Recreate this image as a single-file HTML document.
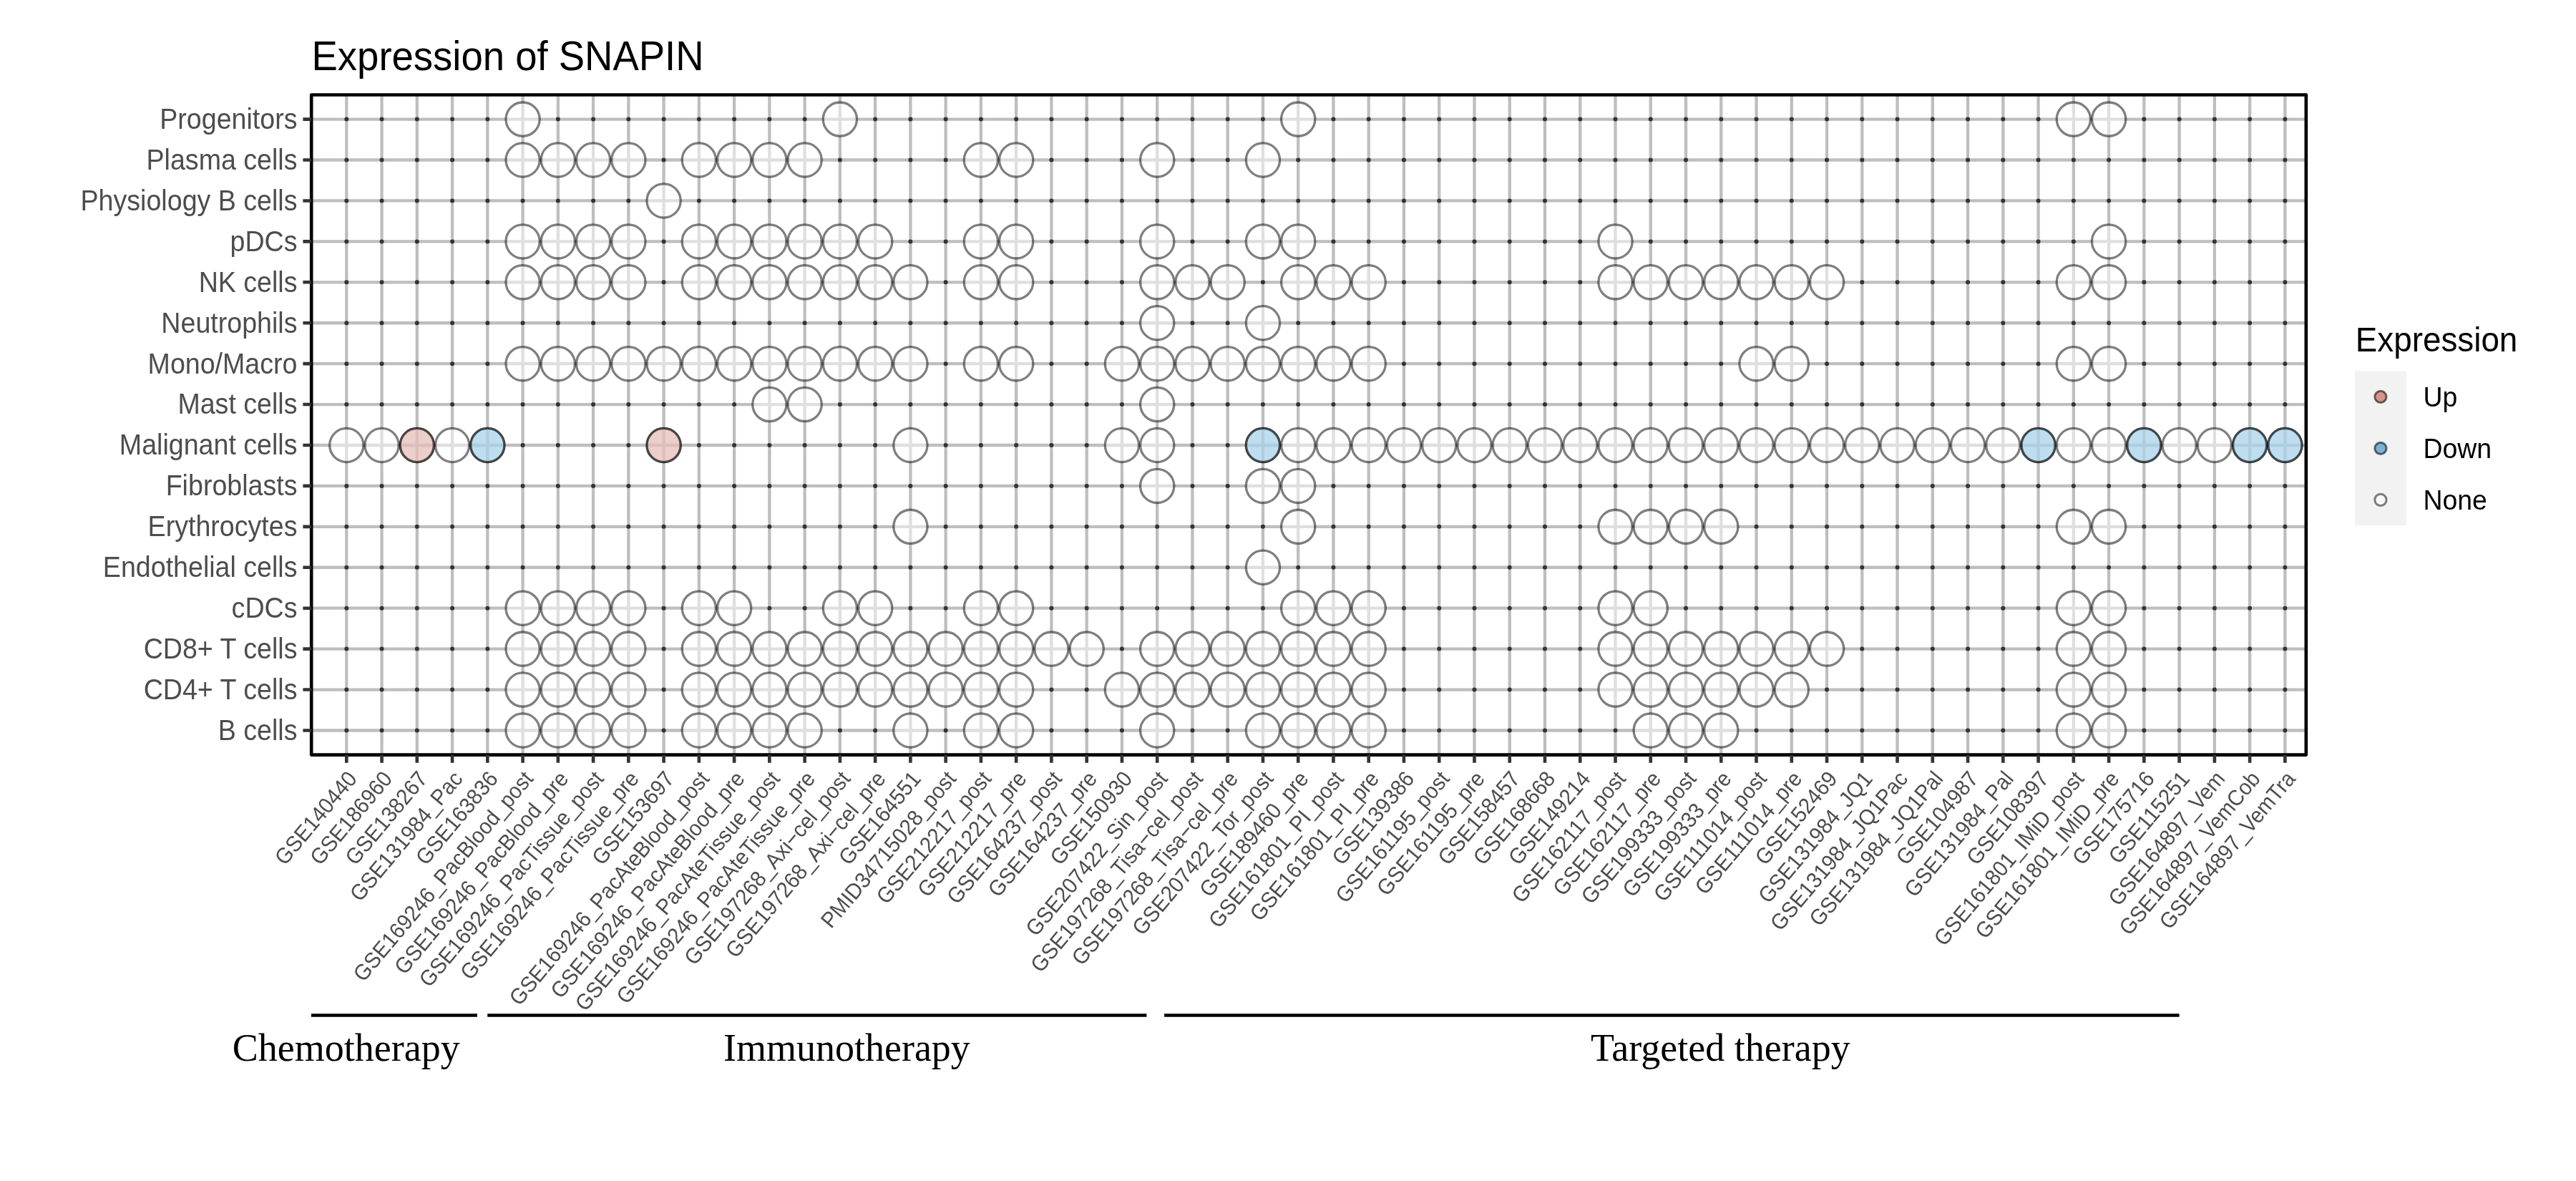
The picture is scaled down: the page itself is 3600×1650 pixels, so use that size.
<!DOCTYPE html><html><head><meta charset="utf-8"><style>html,body{margin:0;padding:0;background:#fff;width:3600px;height:1650px;overflow:hidden;}svg{display:block;will-change:transform;}text{font-family:"Liberation Sans",sans-serif;}.sf{font-family:"Liberation Serif",serif;}</style></head><body>
<svg width="3600" height="1650" viewBox="0 0 3600 1650">
<rect x="0" y="0" width="3600" height="1650" fill="#fff"/>
<path d="M484.30 132.5V1054.6M533.56 132.5V1054.6M582.81 132.5V1054.6M632.07 132.5V1054.6M681.32 132.5V1054.6M730.58 132.5V1054.6M779.84 132.5V1054.6M829.09 132.5V1054.6M878.35 132.5V1054.6M927.60 132.5V1054.6M976.86 132.5V1054.6M1026.12 132.5V1054.6M1075.37 132.5V1054.6M1124.63 132.5V1054.6M1173.88 132.5V1054.6M1223.14 132.5V1054.6M1272.40 132.5V1054.6M1321.65 132.5V1054.6M1370.91 132.5V1054.6M1420.16 132.5V1054.6M1469.42 132.5V1054.6M1518.68 132.5V1054.6M1567.93 132.5V1054.6M1617.19 132.5V1054.6M1666.44 132.5V1054.6M1715.70 132.5V1054.6M1764.96 132.5V1054.6M1814.21 132.5V1054.6M1863.47 132.5V1054.6M1912.72 132.5V1054.6M1961.98 132.5V1054.6M2011.24 132.5V1054.6M2060.49 132.5V1054.6M2109.75 132.5V1054.6M2159.00 132.5V1054.6M2208.26 132.5V1054.6M2257.52 132.5V1054.6M2306.77 132.5V1054.6M2356.03 132.5V1054.6M2405.28 132.5V1054.6M2454.54 132.5V1054.6M2503.80 132.5V1054.6M2553.05 132.5V1054.6M2602.31 132.5V1054.6M2651.56 132.5V1054.6M2700.82 132.5V1054.6M2750.08 132.5V1054.6M2799.33 132.5V1054.6M2848.59 132.5V1054.6M2897.84 132.5V1054.6M2947.10 132.5V1054.6M2996.36 132.5V1054.6M3045.61 132.5V1054.6M3094.87 132.5V1054.6M3144.12 132.5V1054.6M3193.38 132.5V1054.6M435.2 166.60H3222.8M435.2 223.52H3222.8M435.2 280.45H3222.8M435.2 337.38H3222.8M435.2 394.30H3222.8M435.2 451.23H3222.8M435.2 508.15H3222.8M435.2 565.07H3222.8M435.2 622.00H3222.8M435.2 678.92H3222.8M435.2 735.85H3222.8M435.2 792.77H3222.8M435.2 849.70H3222.8M435.2 906.62H3222.8M435.2 963.55H3222.8M435.2 1020.48H3222.8" stroke="#bebebe" stroke-width="4.3" fill="none"/>
<path d="M481.30 166.60a3.0 3.0 0 1 0 6.0 0a3.0 3.0 0 1 0 -6.0 0zM530.56 166.60a3.0 3.0 0 1 0 6.0 0a3.0 3.0 0 1 0 -6.0 0zM579.81 166.60a3.0 3.0 0 1 0 6.0 0a3.0 3.0 0 1 0 -6.0 0zM629.07 166.60a3.0 3.0 0 1 0 6.0 0a3.0 3.0 0 1 0 -6.0 0zM678.32 166.60a3.0 3.0 0 1 0 6.0 0a3.0 3.0 0 1 0 -6.0 0zM776.84 166.60a3.0 3.0 0 1 0 6.0 0a3.0 3.0 0 1 0 -6.0 0zM826.09 166.60a3.0 3.0 0 1 0 6.0 0a3.0 3.0 0 1 0 -6.0 0zM875.35 166.60a3.0 3.0 0 1 0 6.0 0a3.0 3.0 0 1 0 -6.0 0zM924.60 166.60a3.0 3.0 0 1 0 6.0 0a3.0 3.0 0 1 0 -6.0 0zM973.86 166.60a3.0 3.0 0 1 0 6.0 0a3.0 3.0 0 1 0 -6.0 0zM1023.12 166.60a3.0 3.0 0 1 0 6.0 0a3.0 3.0 0 1 0 -6.0 0zM1072.37 166.60a3.0 3.0 0 1 0 6.0 0a3.0 3.0 0 1 0 -6.0 0zM1121.63 166.60a3.0 3.0 0 1 0 6.0 0a3.0 3.0 0 1 0 -6.0 0zM1220.14 166.60a3.0 3.0 0 1 0 6.0 0a3.0 3.0 0 1 0 -6.0 0zM1269.40 166.60a3.0 3.0 0 1 0 6.0 0a3.0 3.0 0 1 0 -6.0 0zM1318.65 166.60a3.0 3.0 0 1 0 6.0 0a3.0 3.0 0 1 0 -6.0 0zM1367.91 166.60a3.0 3.0 0 1 0 6.0 0a3.0 3.0 0 1 0 -6.0 0zM1417.16 166.60a3.0 3.0 0 1 0 6.0 0a3.0 3.0 0 1 0 -6.0 0zM1466.42 166.60a3.0 3.0 0 1 0 6.0 0a3.0 3.0 0 1 0 -6.0 0zM1515.68 166.60a3.0 3.0 0 1 0 6.0 0a3.0 3.0 0 1 0 -6.0 0zM1564.93 166.60a3.0 3.0 0 1 0 6.0 0a3.0 3.0 0 1 0 -6.0 0zM1614.19 166.60a3.0 3.0 0 1 0 6.0 0a3.0 3.0 0 1 0 -6.0 0zM1663.44 166.60a3.0 3.0 0 1 0 6.0 0a3.0 3.0 0 1 0 -6.0 0zM1712.70 166.60a3.0 3.0 0 1 0 6.0 0a3.0 3.0 0 1 0 -6.0 0zM1761.96 166.60a3.0 3.0 0 1 0 6.0 0a3.0 3.0 0 1 0 -6.0 0zM1860.47 166.60a3.0 3.0 0 1 0 6.0 0a3.0 3.0 0 1 0 -6.0 0zM1909.72 166.60a3.0 3.0 0 1 0 6.0 0a3.0 3.0 0 1 0 -6.0 0zM1958.98 166.60a3.0 3.0 0 1 0 6.0 0a3.0 3.0 0 1 0 -6.0 0zM2008.24 166.60a3.0 3.0 0 1 0 6.0 0a3.0 3.0 0 1 0 -6.0 0zM2057.49 166.60a3.0 3.0 0 1 0 6.0 0a3.0 3.0 0 1 0 -6.0 0zM2106.75 166.60a3.0 3.0 0 1 0 6.0 0a3.0 3.0 0 1 0 -6.0 0zM2156.00 166.60a3.0 3.0 0 1 0 6.0 0a3.0 3.0 0 1 0 -6.0 0zM2205.26 166.60a3.0 3.0 0 1 0 6.0 0a3.0 3.0 0 1 0 -6.0 0zM2254.52 166.60a3.0 3.0 0 1 0 6.0 0a3.0 3.0 0 1 0 -6.0 0zM2303.77 166.60a3.0 3.0 0 1 0 6.0 0a3.0 3.0 0 1 0 -6.0 0zM2353.03 166.60a3.0 3.0 0 1 0 6.0 0a3.0 3.0 0 1 0 -6.0 0zM2402.28 166.60a3.0 3.0 0 1 0 6.0 0a3.0 3.0 0 1 0 -6.0 0zM2451.54 166.60a3.0 3.0 0 1 0 6.0 0a3.0 3.0 0 1 0 -6.0 0zM2500.80 166.60a3.0 3.0 0 1 0 6.0 0a3.0 3.0 0 1 0 -6.0 0zM2550.05 166.60a3.0 3.0 0 1 0 6.0 0a3.0 3.0 0 1 0 -6.0 0zM2599.31 166.60a3.0 3.0 0 1 0 6.0 0a3.0 3.0 0 1 0 -6.0 0zM2648.56 166.60a3.0 3.0 0 1 0 6.0 0a3.0 3.0 0 1 0 -6.0 0zM2697.82 166.60a3.0 3.0 0 1 0 6.0 0a3.0 3.0 0 1 0 -6.0 0zM2747.08 166.60a3.0 3.0 0 1 0 6.0 0a3.0 3.0 0 1 0 -6.0 0zM2796.33 166.60a3.0 3.0 0 1 0 6.0 0a3.0 3.0 0 1 0 -6.0 0zM2845.59 166.60a3.0 3.0 0 1 0 6.0 0a3.0 3.0 0 1 0 -6.0 0zM2993.36 166.60a3.0 3.0 0 1 0 6.0 0a3.0 3.0 0 1 0 -6.0 0zM3042.61 166.60a3.0 3.0 0 1 0 6.0 0a3.0 3.0 0 1 0 -6.0 0zM3091.87 166.60a3.0 3.0 0 1 0 6.0 0a3.0 3.0 0 1 0 -6.0 0zM3141.12 166.60a3.0 3.0 0 1 0 6.0 0a3.0 3.0 0 1 0 -6.0 0zM3190.38 166.60a3.0 3.0 0 1 0 6.0 0a3.0 3.0 0 1 0 -6.0 0zM481.30 223.52a3.0 3.0 0 1 0 6.0 0a3.0 3.0 0 1 0 -6.0 0zM530.56 223.52a3.0 3.0 0 1 0 6.0 0a3.0 3.0 0 1 0 -6.0 0zM579.81 223.52a3.0 3.0 0 1 0 6.0 0a3.0 3.0 0 1 0 -6.0 0zM629.07 223.52a3.0 3.0 0 1 0 6.0 0a3.0 3.0 0 1 0 -6.0 0zM678.32 223.52a3.0 3.0 0 1 0 6.0 0a3.0 3.0 0 1 0 -6.0 0zM924.60 223.52a3.0 3.0 0 1 0 6.0 0a3.0 3.0 0 1 0 -6.0 0zM1170.88 223.52a3.0 3.0 0 1 0 6.0 0a3.0 3.0 0 1 0 -6.0 0zM1220.14 223.52a3.0 3.0 0 1 0 6.0 0a3.0 3.0 0 1 0 -6.0 0zM1269.40 223.52a3.0 3.0 0 1 0 6.0 0a3.0 3.0 0 1 0 -6.0 0zM1318.65 223.52a3.0 3.0 0 1 0 6.0 0a3.0 3.0 0 1 0 -6.0 0zM1466.42 223.52a3.0 3.0 0 1 0 6.0 0a3.0 3.0 0 1 0 -6.0 0zM1515.68 223.52a3.0 3.0 0 1 0 6.0 0a3.0 3.0 0 1 0 -6.0 0zM1564.93 223.52a3.0 3.0 0 1 0 6.0 0a3.0 3.0 0 1 0 -6.0 0zM1663.44 223.52a3.0 3.0 0 1 0 6.0 0a3.0 3.0 0 1 0 -6.0 0zM1712.70 223.52a3.0 3.0 0 1 0 6.0 0a3.0 3.0 0 1 0 -6.0 0zM1811.21 223.52a3.0 3.0 0 1 0 6.0 0a3.0 3.0 0 1 0 -6.0 0zM1860.47 223.52a3.0 3.0 0 1 0 6.0 0a3.0 3.0 0 1 0 -6.0 0zM1909.72 223.52a3.0 3.0 0 1 0 6.0 0a3.0 3.0 0 1 0 -6.0 0zM1958.98 223.52a3.0 3.0 0 1 0 6.0 0a3.0 3.0 0 1 0 -6.0 0zM2008.24 223.52a3.0 3.0 0 1 0 6.0 0a3.0 3.0 0 1 0 -6.0 0zM2057.49 223.52a3.0 3.0 0 1 0 6.0 0a3.0 3.0 0 1 0 -6.0 0zM2106.75 223.52a3.0 3.0 0 1 0 6.0 0a3.0 3.0 0 1 0 -6.0 0zM2156.00 223.52a3.0 3.0 0 1 0 6.0 0a3.0 3.0 0 1 0 -6.0 0zM2205.26 223.52a3.0 3.0 0 1 0 6.0 0a3.0 3.0 0 1 0 -6.0 0zM2254.52 223.52a3.0 3.0 0 1 0 6.0 0a3.0 3.0 0 1 0 -6.0 0zM2303.77 223.52a3.0 3.0 0 1 0 6.0 0a3.0 3.0 0 1 0 -6.0 0zM2353.03 223.52a3.0 3.0 0 1 0 6.0 0a3.0 3.0 0 1 0 -6.0 0zM2402.28 223.52a3.0 3.0 0 1 0 6.0 0a3.0 3.0 0 1 0 -6.0 0zM2451.54 223.52a3.0 3.0 0 1 0 6.0 0a3.0 3.0 0 1 0 -6.0 0zM2500.80 223.52a3.0 3.0 0 1 0 6.0 0a3.0 3.0 0 1 0 -6.0 0zM2550.05 223.52a3.0 3.0 0 1 0 6.0 0a3.0 3.0 0 1 0 -6.0 0zM2599.31 223.52a3.0 3.0 0 1 0 6.0 0a3.0 3.0 0 1 0 -6.0 0zM2648.56 223.52a3.0 3.0 0 1 0 6.0 0a3.0 3.0 0 1 0 -6.0 0zM2697.82 223.52a3.0 3.0 0 1 0 6.0 0a3.0 3.0 0 1 0 -6.0 0zM2747.08 223.52a3.0 3.0 0 1 0 6.0 0a3.0 3.0 0 1 0 -6.0 0zM2796.33 223.52a3.0 3.0 0 1 0 6.0 0a3.0 3.0 0 1 0 -6.0 0zM2845.59 223.52a3.0 3.0 0 1 0 6.0 0a3.0 3.0 0 1 0 -6.0 0zM2894.84 223.52a3.0 3.0 0 1 0 6.0 0a3.0 3.0 0 1 0 -6.0 0zM2944.10 223.52a3.0 3.0 0 1 0 6.0 0a3.0 3.0 0 1 0 -6.0 0zM2993.36 223.52a3.0 3.0 0 1 0 6.0 0a3.0 3.0 0 1 0 -6.0 0zM3042.61 223.52a3.0 3.0 0 1 0 6.0 0a3.0 3.0 0 1 0 -6.0 0zM3091.87 223.52a3.0 3.0 0 1 0 6.0 0a3.0 3.0 0 1 0 -6.0 0zM3141.12 223.52a3.0 3.0 0 1 0 6.0 0a3.0 3.0 0 1 0 -6.0 0zM3190.38 223.52a3.0 3.0 0 1 0 6.0 0a3.0 3.0 0 1 0 -6.0 0zM481.30 280.45a3.0 3.0 0 1 0 6.0 0a3.0 3.0 0 1 0 -6.0 0zM530.56 280.45a3.0 3.0 0 1 0 6.0 0a3.0 3.0 0 1 0 -6.0 0zM579.81 280.45a3.0 3.0 0 1 0 6.0 0a3.0 3.0 0 1 0 -6.0 0zM629.07 280.45a3.0 3.0 0 1 0 6.0 0a3.0 3.0 0 1 0 -6.0 0zM678.32 280.45a3.0 3.0 0 1 0 6.0 0a3.0 3.0 0 1 0 -6.0 0zM727.58 280.45a3.0 3.0 0 1 0 6.0 0a3.0 3.0 0 1 0 -6.0 0zM776.84 280.45a3.0 3.0 0 1 0 6.0 0a3.0 3.0 0 1 0 -6.0 0zM826.09 280.45a3.0 3.0 0 1 0 6.0 0a3.0 3.0 0 1 0 -6.0 0zM875.35 280.45a3.0 3.0 0 1 0 6.0 0a3.0 3.0 0 1 0 -6.0 0zM973.86 280.45a3.0 3.0 0 1 0 6.0 0a3.0 3.0 0 1 0 -6.0 0zM1023.12 280.45a3.0 3.0 0 1 0 6.0 0a3.0 3.0 0 1 0 -6.0 0zM1072.37 280.45a3.0 3.0 0 1 0 6.0 0a3.0 3.0 0 1 0 -6.0 0zM1121.63 280.45a3.0 3.0 0 1 0 6.0 0a3.0 3.0 0 1 0 -6.0 0zM1170.88 280.45a3.0 3.0 0 1 0 6.0 0a3.0 3.0 0 1 0 -6.0 0zM1220.14 280.45a3.0 3.0 0 1 0 6.0 0a3.0 3.0 0 1 0 -6.0 0zM1269.40 280.45a3.0 3.0 0 1 0 6.0 0a3.0 3.0 0 1 0 -6.0 0zM1318.65 280.45a3.0 3.0 0 1 0 6.0 0a3.0 3.0 0 1 0 -6.0 0zM1367.91 280.45a3.0 3.0 0 1 0 6.0 0a3.0 3.0 0 1 0 -6.0 0zM1417.16 280.45a3.0 3.0 0 1 0 6.0 0a3.0 3.0 0 1 0 -6.0 0zM1466.42 280.45a3.0 3.0 0 1 0 6.0 0a3.0 3.0 0 1 0 -6.0 0zM1515.68 280.45a3.0 3.0 0 1 0 6.0 0a3.0 3.0 0 1 0 -6.0 0zM1564.93 280.45a3.0 3.0 0 1 0 6.0 0a3.0 3.0 0 1 0 -6.0 0zM1614.19 280.45a3.0 3.0 0 1 0 6.0 0a3.0 3.0 0 1 0 -6.0 0zM1663.44 280.45a3.0 3.0 0 1 0 6.0 0a3.0 3.0 0 1 0 -6.0 0zM1712.70 280.45a3.0 3.0 0 1 0 6.0 0a3.0 3.0 0 1 0 -6.0 0zM1761.96 280.45a3.0 3.0 0 1 0 6.0 0a3.0 3.0 0 1 0 -6.0 0zM1811.21 280.45a3.0 3.0 0 1 0 6.0 0a3.0 3.0 0 1 0 -6.0 0zM1860.47 280.45a3.0 3.0 0 1 0 6.0 0a3.0 3.0 0 1 0 -6.0 0zM1909.72 280.45a3.0 3.0 0 1 0 6.0 0a3.0 3.0 0 1 0 -6.0 0zM1958.98 280.45a3.0 3.0 0 1 0 6.0 0a3.0 3.0 0 1 0 -6.0 0zM2008.24 280.45a3.0 3.0 0 1 0 6.0 0a3.0 3.0 0 1 0 -6.0 0zM2057.49 280.45a3.0 3.0 0 1 0 6.0 0a3.0 3.0 0 1 0 -6.0 0zM2106.75 280.45a3.0 3.0 0 1 0 6.0 0a3.0 3.0 0 1 0 -6.0 0zM2156.00 280.45a3.0 3.0 0 1 0 6.0 0a3.0 3.0 0 1 0 -6.0 0zM2205.26 280.45a3.0 3.0 0 1 0 6.0 0a3.0 3.0 0 1 0 -6.0 0zM2254.52 280.45a3.0 3.0 0 1 0 6.0 0a3.0 3.0 0 1 0 -6.0 0zM2303.77 280.45a3.0 3.0 0 1 0 6.0 0a3.0 3.0 0 1 0 -6.0 0zM2353.03 280.45a3.0 3.0 0 1 0 6.0 0a3.0 3.0 0 1 0 -6.0 0zM2402.28 280.45a3.0 3.0 0 1 0 6.0 0a3.0 3.0 0 1 0 -6.0 0zM2451.54 280.45a3.0 3.0 0 1 0 6.0 0a3.0 3.0 0 1 0 -6.0 0zM2500.80 280.45a3.0 3.0 0 1 0 6.0 0a3.0 3.0 0 1 0 -6.0 0zM2550.05 280.45a3.0 3.0 0 1 0 6.0 0a3.0 3.0 0 1 0 -6.0 0zM2599.31 280.45a3.0 3.0 0 1 0 6.0 0a3.0 3.0 0 1 0 -6.0 0zM2648.56 280.45a3.0 3.0 0 1 0 6.0 0a3.0 3.0 0 1 0 -6.0 0zM2697.82 280.45a3.0 3.0 0 1 0 6.0 0a3.0 3.0 0 1 0 -6.0 0zM2747.08 280.45a3.0 3.0 0 1 0 6.0 0a3.0 3.0 0 1 0 -6.0 0zM2796.33 280.45a3.0 3.0 0 1 0 6.0 0a3.0 3.0 0 1 0 -6.0 0zM2845.59 280.45a3.0 3.0 0 1 0 6.0 0a3.0 3.0 0 1 0 -6.0 0zM2894.84 280.45a3.0 3.0 0 1 0 6.0 0a3.0 3.0 0 1 0 -6.0 0zM2944.10 280.45a3.0 3.0 0 1 0 6.0 0a3.0 3.0 0 1 0 -6.0 0zM2993.36 280.45a3.0 3.0 0 1 0 6.0 0a3.0 3.0 0 1 0 -6.0 0zM3042.61 280.45a3.0 3.0 0 1 0 6.0 0a3.0 3.0 0 1 0 -6.0 0zM3091.87 280.45a3.0 3.0 0 1 0 6.0 0a3.0 3.0 0 1 0 -6.0 0zM3141.12 280.45a3.0 3.0 0 1 0 6.0 0a3.0 3.0 0 1 0 -6.0 0zM3190.38 280.45a3.0 3.0 0 1 0 6.0 0a3.0 3.0 0 1 0 -6.0 0zM481.30 337.38a3.0 3.0 0 1 0 6.0 0a3.0 3.0 0 1 0 -6.0 0zM530.56 337.38a3.0 3.0 0 1 0 6.0 0a3.0 3.0 0 1 0 -6.0 0zM579.81 337.38a3.0 3.0 0 1 0 6.0 0a3.0 3.0 0 1 0 -6.0 0zM629.07 337.38a3.0 3.0 0 1 0 6.0 0a3.0 3.0 0 1 0 -6.0 0zM678.32 337.38a3.0 3.0 0 1 0 6.0 0a3.0 3.0 0 1 0 -6.0 0zM924.60 337.38a3.0 3.0 0 1 0 6.0 0a3.0 3.0 0 1 0 -6.0 0zM1269.40 337.38a3.0 3.0 0 1 0 6.0 0a3.0 3.0 0 1 0 -6.0 0zM1318.65 337.38a3.0 3.0 0 1 0 6.0 0a3.0 3.0 0 1 0 -6.0 0zM1466.42 337.38a3.0 3.0 0 1 0 6.0 0a3.0 3.0 0 1 0 -6.0 0zM1515.68 337.38a3.0 3.0 0 1 0 6.0 0a3.0 3.0 0 1 0 -6.0 0zM1564.93 337.38a3.0 3.0 0 1 0 6.0 0a3.0 3.0 0 1 0 -6.0 0zM1663.44 337.38a3.0 3.0 0 1 0 6.0 0a3.0 3.0 0 1 0 -6.0 0zM1712.70 337.38a3.0 3.0 0 1 0 6.0 0a3.0 3.0 0 1 0 -6.0 0zM1860.47 337.38a3.0 3.0 0 1 0 6.0 0a3.0 3.0 0 1 0 -6.0 0zM1909.72 337.38a3.0 3.0 0 1 0 6.0 0a3.0 3.0 0 1 0 -6.0 0zM1958.98 337.38a3.0 3.0 0 1 0 6.0 0a3.0 3.0 0 1 0 -6.0 0zM2008.24 337.38a3.0 3.0 0 1 0 6.0 0a3.0 3.0 0 1 0 -6.0 0zM2057.49 337.38a3.0 3.0 0 1 0 6.0 0a3.0 3.0 0 1 0 -6.0 0zM2106.75 337.38a3.0 3.0 0 1 0 6.0 0a3.0 3.0 0 1 0 -6.0 0zM2156.00 337.38a3.0 3.0 0 1 0 6.0 0a3.0 3.0 0 1 0 -6.0 0zM2205.26 337.38a3.0 3.0 0 1 0 6.0 0a3.0 3.0 0 1 0 -6.0 0zM2303.77 337.38a3.0 3.0 0 1 0 6.0 0a3.0 3.0 0 1 0 -6.0 0zM2353.03 337.38a3.0 3.0 0 1 0 6.0 0a3.0 3.0 0 1 0 -6.0 0zM2402.28 337.38a3.0 3.0 0 1 0 6.0 0a3.0 3.0 0 1 0 -6.0 0zM2451.54 337.38a3.0 3.0 0 1 0 6.0 0a3.0 3.0 0 1 0 -6.0 0zM2500.80 337.38a3.0 3.0 0 1 0 6.0 0a3.0 3.0 0 1 0 -6.0 0zM2550.05 337.38a3.0 3.0 0 1 0 6.0 0a3.0 3.0 0 1 0 -6.0 0zM2599.31 337.38a3.0 3.0 0 1 0 6.0 0a3.0 3.0 0 1 0 -6.0 0zM2648.56 337.38a3.0 3.0 0 1 0 6.0 0a3.0 3.0 0 1 0 -6.0 0zM2697.82 337.38a3.0 3.0 0 1 0 6.0 0a3.0 3.0 0 1 0 -6.0 0zM2747.08 337.38a3.0 3.0 0 1 0 6.0 0a3.0 3.0 0 1 0 -6.0 0zM2796.33 337.38a3.0 3.0 0 1 0 6.0 0a3.0 3.0 0 1 0 -6.0 0zM2845.59 337.38a3.0 3.0 0 1 0 6.0 0a3.0 3.0 0 1 0 -6.0 0zM2894.84 337.38a3.0 3.0 0 1 0 6.0 0a3.0 3.0 0 1 0 -6.0 0zM2993.36 337.38a3.0 3.0 0 1 0 6.0 0a3.0 3.0 0 1 0 -6.0 0zM3042.61 337.38a3.0 3.0 0 1 0 6.0 0a3.0 3.0 0 1 0 -6.0 0zM3091.87 337.38a3.0 3.0 0 1 0 6.0 0a3.0 3.0 0 1 0 -6.0 0zM3141.12 337.38a3.0 3.0 0 1 0 6.0 0a3.0 3.0 0 1 0 -6.0 0zM3190.38 337.38a3.0 3.0 0 1 0 6.0 0a3.0 3.0 0 1 0 -6.0 0zM481.30 394.30a3.0 3.0 0 1 0 6.0 0a3.0 3.0 0 1 0 -6.0 0zM530.56 394.30a3.0 3.0 0 1 0 6.0 0a3.0 3.0 0 1 0 -6.0 0zM579.81 394.30a3.0 3.0 0 1 0 6.0 0a3.0 3.0 0 1 0 -6.0 0zM629.07 394.30a3.0 3.0 0 1 0 6.0 0a3.0 3.0 0 1 0 -6.0 0zM678.32 394.30a3.0 3.0 0 1 0 6.0 0a3.0 3.0 0 1 0 -6.0 0zM924.60 394.30a3.0 3.0 0 1 0 6.0 0a3.0 3.0 0 1 0 -6.0 0zM1318.65 394.30a3.0 3.0 0 1 0 6.0 0a3.0 3.0 0 1 0 -6.0 0zM1466.42 394.30a3.0 3.0 0 1 0 6.0 0a3.0 3.0 0 1 0 -6.0 0zM1515.68 394.30a3.0 3.0 0 1 0 6.0 0a3.0 3.0 0 1 0 -6.0 0zM1564.93 394.30a3.0 3.0 0 1 0 6.0 0a3.0 3.0 0 1 0 -6.0 0zM1761.96 394.30a3.0 3.0 0 1 0 6.0 0a3.0 3.0 0 1 0 -6.0 0zM1958.98 394.30a3.0 3.0 0 1 0 6.0 0a3.0 3.0 0 1 0 -6.0 0zM2008.24 394.30a3.0 3.0 0 1 0 6.0 0a3.0 3.0 0 1 0 -6.0 0zM2057.49 394.30a3.0 3.0 0 1 0 6.0 0a3.0 3.0 0 1 0 -6.0 0zM2106.75 394.30a3.0 3.0 0 1 0 6.0 0a3.0 3.0 0 1 0 -6.0 0zM2156.00 394.30a3.0 3.0 0 1 0 6.0 0a3.0 3.0 0 1 0 -6.0 0zM2205.26 394.30a3.0 3.0 0 1 0 6.0 0a3.0 3.0 0 1 0 -6.0 0zM2599.31 394.30a3.0 3.0 0 1 0 6.0 0a3.0 3.0 0 1 0 -6.0 0zM2648.56 394.30a3.0 3.0 0 1 0 6.0 0a3.0 3.0 0 1 0 -6.0 0zM2697.82 394.30a3.0 3.0 0 1 0 6.0 0a3.0 3.0 0 1 0 -6.0 0zM2747.08 394.30a3.0 3.0 0 1 0 6.0 0a3.0 3.0 0 1 0 -6.0 0zM2796.33 394.30a3.0 3.0 0 1 0 6.0 0a3.0 3.0 0 1 0 -6.0 0zM2845.59 394.30a3.0 3.0 0 1 0 6.0 0a3.0 3.0 0 1 0 -6.0 0zM2993.36 394.30a3.0 3.0 0 1 0 6.0 0a3.0 3.0 0 1 0 -6.0 0zM3042.61 394.30a3.0 3.0 0 1 0 6.0 0a3.0 3.0 0 1 0 -6.0 0zM3091.87 394.30a3.0 3.0 0 1 0 6.0 0a3.0 3.0 0 1 0 -6.0 0zM3141.12 394.30a3.0 3.0 0 1 0 6.0 0a3.0 3.0 0 1 0 -6.0 0zM3190.38 394.30a3.0 3.0 0 1 0 6.0 0a3.0 3.0 0 1 0 -6.0 0zM481.30 451.23a3.0 3.0 0 1 0 6.0 0a3.0 3.0 0 1 0 -6.0 0zM530.56 451.23a3.0 3.0 0 1 0 6.0 0a3.0 3.0 0 1 0 -6.0 0zM579.81 451.23a3.0 3.0 0 1 0 6.0 0a3.0 3.0 0 1 0 -6.0 0zM629.07 451.23a3.0 3.0 0 1 0 6.0 0a3.0 3.0 0 1 0 -6.0 0zM678.32 451.23a3.0 3.0 0 1 0 6.0 0a3.0 3.0 0 1 0 -6.0 0zM727.58 451.23a3.0 3.0 0 1 0 6.0 0a3.0 3.0 0 1 0 -6.0 0zM776.84 451.23a3.0 3.0 0 1 0 6.0 0a3.0 3.0 0 1 0 -6.0 0zM826.09 451.23a3.0 3.0 0 1 0 6.0 0a3.0 3.0 0 1 0 -6.0 0zM875.35 451.23a3.0 3.0 0 1 0 6.0 0a3.0 3.0 0 1 0 -6.0 0zM924.60 451.23a3.0 3.0 0 1 0 6.0 0a3.0 3.0 0 1 0 -6.0 0zM973.86 451.23a3.0 3.0 0 1 0 6.0 0a3.0 3.0 0 1 0 -6.0 0zM1023.12 451.23a3.0 3.0 0 1 0 6.0 0a3.0 3.0 0 1 0 -6.0 0zM1072.37 451.23a3.0 3.0 0 1 0 6.0 0a3.0 3.0 0 1 0 -6.0 0zM1121.63 451.23a3.0 3.0 0 1 0 6.0 0a3.0 3.0 0 1 0 -6.0 0zM1170.88 451.23a3.0 3.0 0 1 0 6.0 0a3.0 3.0 0 1 0 -6.0 0zM1220.14 451.23a3.0 3.0 0 1 0 6.0 0a3.0 3.0 0 1 0 -6.0 0zM1269.40 451.23a3.0 3.0 0 1 0 6.0 0a3.0 3.0 0 1 0 -6.0 0zM1318.65 451.23a3.0 3.0 0 1 0 6.0 0a3.0 3.0 0 1 0 -6.0 0zM1367.91 451.23a3.0 3.0 0 1 0 6.0 0a3.0 3.0 0 1 0 -6.0 0zM1417.16 451.23a3.0 3.0 0 1 0 6.0 0a3.0 3.0 0 1 0 -6.0 0zM1466.42 451.23a3.0 3.0 0 1 0 6.0 0a3.0 3.0 0 1 0 -6.0 0zM1515.68 451.23a3.0 3.0 0 1 0 6.0 0a3.0 3.0 0 1 0 -6.0 0zM1564.93 451.23a3.0 3.0 0 1 0 6.0 0a3.0 3.0 0 1 0 -6.0 0zM1663.44 451.23a3.0 3.0 0 1 0 6.0 0a3.0 3.0 0 1 0 -6.0 0zM1712.70 451.23a3.0 3.0 0 1 0 6.0 0a3.0 3.0 0 1 0 -6.0 0zM1811.21 451.23a3.0 3.0 0 1 0 6.0 0a3.0 3.0 0 1 0 -6.0 0zM1860.47 451.23a3.0 3.0 0 1 0 6.0 0a3.0 3.0 0 1 0 -6.0 0zM1909.72 451.23a3.0 3.0 0 1 0 6.0 0a3.0 3.0 0 1 0 -6.0 0zM1958.98 451.23a3.0 3.0 0 1 0 6.0 0a3.0 3.0 0 1 0 -6.0 0zM2008.24 451.23a3.0 3.0 0 1 0 6.0 0a3.0 3.0 0 1 0 -6.0 0zM2057.49 451.23a3.0 3.0 0 1 0 6.0 0a3.0 3.0 0 1 0 -6.0 0zM2106.75 451.23a3.0 3.0 0 1 0 6.0 0a3.0 3.0 0 1 0 -6.0 0zM2156.00 451.23a3.0 3.0 0 1 0 6.0 0a3.0 3.0 0 1 0 -6.0 0zM2205.26 451.23a3.0 3.0 0 1 0 6.0 0a3.0 3.0 0 1 0 -6.0 0zM2254.52 451.23a3.0 3.0 0 1 0 6.0 0a3.0 3.0 0 1 0 -6.0 0zM2303.77 451.23a3.0 3.0 0 1 0 6.0 0a3.0 3.0 0 1 0 -6.0 0zM2353.03 451.23a3.0 3.0 0 1 0 6.0 0a3.0 3.0 0 1 0 -6.0 0zM2402.28 451.23a3.0 3.0 0 1 0 6.0 0a3.0 3.0 0 1 0 -6.0 0zM2451.54 451.23a3.0 3.0 0 1 0 6.0 0a3.0 3.0 0 1 0 -6.0 0zM2500.80 451.23a3.0 3.0 0 1 0 6.0 0a3.0 3.0 0 1 0 -6.0 0zM2550.05 451.23a3.0 3.0 0 1 0 6.0 0a3.0 3.0 0 1 0 -6.0 0zM2599.31 451.23a3.0 3.0 0 1 0 6.0 0a3.0 3.0 0 1 0 -6.0 0zM2648.56 451.23a3.0 3.0 0 1 0 6.0 0a3.0 3.0 0 1 0 -6.0 0zM2697.82 451.23a3.0 3.0 0 1 0 6.0 0a3.0 3.0 0 1 0 -6.0 0zM2747.08 451.23a3.0 3.0 0 1 0 6.0 0a3.0 3.0 0 1 0 -6.0 0zM2796.33 451.23a3.0 3.0 0 1 0 6.0 0a3.0 3.0 0 1 0 -6.0 0zM2845.59 451.23a3.0 3.0 0 1 0 6.0 0a3.0 3.0 0 1 0 -6.0 0zM2894.84 451.23a3.0 3.0 0 1 0 6.0 0a3.0 3.0 0 1 0 -6.0 0zM2944.10 451.23a3.0 3.0 0 1 0 6.0 0a3.0 3.0 0 1 0 -6.0 0zM2993.36 451.23a3.0 3.0 0 1 0 6.0 0a3.0 3.0 0 1 0 -6.0 0zM3042.61 451.23a3.0 3.0 0 1 0 6.0 0a3.0 3.0 0 1 0 -6.0 0zM3091.87 451.23a3.0 3.0 0 1 0 6.0 0a3.0 3.0 0 1 0 -6.0 0zM3141.12 451.23a3.0 3.0 0 1 0 6.0 0a3.0 3.0 0 1 0 -6.0 0zM3190.38 451.23a3.0 3.0 0 1 0 6.0 0a3.0 3.0 0 1 0 -6.0 0zM481.30 508.15a3.0 3.0 0 1 0 6.0 0a3.0 3.0 0 1 0 -6.0 0zM530.56 508.15a3.0 3.0 0 1 0 6.0 0a3.0 3.0 0 1 0 -6.0 0zM579.81 508.15a3.0 3.0 0 1 0 6.0 0a3.0 3.0 0 1 0 -6.0 0zM629.07 508.15a3.0 3.0 0 1 0 6.0 0a3.0 3.0 0 1 0 -6.0 0zM678.32 508.15a3.0 3.0 0 1 0 6.0 0a3.0 3.0 0 1 0 -6.0 0zM1318.65 508.15a3.0 3.0 0 1 0 6.0 0a3.0 3.0 0 1 0 -6.0 0zM1466.42 508.15a3.0 3.0 0 1 0 6.0 0a3.0 3.0 0 1 0 -6.0 0zM1515.68 508.15a3.0 3.0 0 1 0 6.0 0a3.0 3.0 0 1 0 -6.0 0zM1958.98 508.15a3.0 3.0 0 1 0 6.0 0a3.0 3.0 0 1 0 -6.0 0zM2008.24 508.15a3.0 3.0 0 1 0 6.0 0a3.0 3.0 0 1 0 -6.0 0zM2057.49 508.15a3.0 3.0 0 1 0 6.0 0a3.0 3.0 0 1 0 -6.0 0zM2106.75 508.15a3.0 3.0 0 1 0 6.0 0a3.0 3.0 0 1 0 -6.0 0zM2156.00 508.15a3.0 3.0 0 1 0 6.0 0a3.0 3.0 0 1 0 -6.0 0zM2205.26 508.15a3.0 3.0 0 1 0 6.0 0a3.0 3.0 0 1 0 -6.0 0zM2254.52 508.15a3.0 3.0 0 1 0 6.0 0a3.0 3.0 0 1 0 -6.0 0zM2303.77 508.15a3.0 3.0 0 1 0 6.0 0a3.0 3.0 0 1 0 -6.0 0zM2353.03 508.15a3.0 3.0 0 1 0 6.0 0a3.0 3.0 0 1 0 -6.0 0zM2402.28 508.15a3.0 3.0 0 1 0 6.0 0a3.0 3.0 0 1 0 -6.0 0zM2550.05 508.15a3.0 3.0 0 1 0 6.0 0a3.0 3.0 0 1 0 -6.0 0zM2599.31 508.15a3.0 3.0 0 1 0 6.0 0a3.0 3.0 0 1 0 -6.0 0zM2648.56 508.15a3.0 3.0 0 1 0 6.0 0a3.0 3.0 0 1 0 -6.0 0zM2697.82 508.15a3.0 3.0 0 1 0 6.0 0a3.0 3.0 0 1 0 -6.0 0zM2747.08 508.15a3.0 3.0 0 1 0 6.0 0a3.0 3.0 0 1 0 -6.0 0zM2796.33 508.15a3.0 3.0 0 1 0 6.0 0a3.0 3.0 0 1 0 -6.0 0zM2845.59 508.15a3.0 3.0 0 1 0 6.0 0a3.0 3.0 0 1 0 -6.0 0zM2993.36 508.15a3.0 3.0 0 1 0 6.0 0a3.0 3.0 0 1 0 -6.0 0zM3042.61 508.15a3.0 3.0 0 1 0 6.0 0a3.0 3.0 0 1 0 -6.0 0zM3091.87 508.15a3.0 3.0 0 1 0 6.0 0a3.0 3.0 0 1 0 -6.0 0zM3141.12 508.15a3.0 3.0 0 1 0 6.0 0a3.0 3.0 0 1 0 -6.0 0zM3190.38 508.15a3.0 3.0 0 1 0 6.0 0a3.0 3.0 0 1 0 -6.0 0zM481.30 565.07a3.0 3.0 0 1 0 6.0 0a3.0 3.0 0 1 0 -6.0 0zM530.56 565.07a3.0 3.0 0 1 0 6.0 0a3.0 3.0 0 1 0 -6.0 0zM579.81 565.07a3.0 3.0 0 1 0 6.0 0a3.0 3.0 0 1 0 -6.0 0zM629.07 565.07a3.0 3.0 0 1 0 6.0 0a3.0 3.0 0 1 0 -6.0 0zM678.32 565.07a3.0 3.0 0 1 0 6.0 0a3.0 3.0 0 1 0 -6.0 0zM727.58 565.07a3.0 3.0 0 1 0 6.0 0a3.0 3.0 0 1 0 -6.0 0zM776.84 565.07a3.0 3.0 0 1 0 6.0 0a3.0 3.0 0 1 0 -6.0 0zM826.09 565.07a3.0 3.0 0 1 0 6.0 0a3.0 3.0 0 1 0 -6.0 0zM875.35 565.07a3.0 3.0 0 1 0 6.0 0a3.0 3.0 0 1 0 -6.0 0zM924.60 565.07a3.0 3.0 0 1 0 6.0 0a3.0 3.0 0 1 0 -6.0 0zM973.86 565.07a3.0 3.0 0 1 0 6.0 0a3.0 3.0 0 1 0 -6.0 0zM1023.12 565.07a3.0 3.0 0 1 0 6.0 0a3.0 3.0 0 1 0 -6.0 0zM1170.88 565.07a3.0 3.0 0 1 0 6.0 0a3.0 3.0 0 1 0 -6.0 0zM1220.14 565.07a3.0 3.0 0 1 0 6.0 0a3.0 3.0 0 1 0 -6.0 0zM1269.40 565.07a3.0 3.0 0 1 0 6.0 0a3.0 3.0 0 1 0 -6.0 0zM1318.65 565.07a3.0 3.0 0 1 0 6.0 0a3.0 3.0 0 1 0 -6.0 0zM1367.91 565.07a3.0 3.0 0 1 0 6.0 0a3.0 3.0 0 1 0 -6.0 0zM1417.16 565.07a3.0 3.0 0 1 0 6.0 0a3.0 3.0 0 1 0 -6.0 0zM1466.42 565.07a3.0 3.0 0 1 0 6.0 0a3.0 3.0 0 1 0 -6.0 0zM1515.68 565.07a3.0 3.0 0 1 0 6.0 0a3.0 3.0 0 1 0 -6.0 0zM1564.93 565.07a3.0 3.0 0 1 0 6.0 0a3.0 3.0 0 1 0 -6.0 0zM1663.44 565.07a3.0 3.0 0 1 0 6.0 0a3.0 3.0 0 1 0 -6.0 0zM1712.70 565.07a3.0 3.0 0 1 0 6.0 0a3.0 3.0 0 1 0 -6.0 0zM1761.96 565.07a3.0 3.0 0 1 0 6.0 0a3.0 3.0 0 1 0 -6.0 0zM1811.21 565.07a3.0 3.0 0 1 0 6.0 0a3.0 3.0 0 1 0 -6.0 0zM1860.47 565.07a3.0 3.0 0 1 0 6.0 0a3.0 3.0 0 1 0 -6.0 0zM1909.72 565.07a3.0 3.0 0 1 0 6.0 0a3.0 3.0 0 1 0 -6.0 0zM1958.98 565.07a3.0 3.0 0 1 0 6.0 0a3.0 3.0 0 1 0 -6.0 0zM2008.24 565.07a3.0 3.0 0 1 0 6.0 0a3.0 3.0 0 1 0 -6.0 0zM2057.49 565.07a3.0 3.0 0 1 0 6.0 0a3.0 3.0 0 1 0 -6.0 0zM2106.75 565.07a3.0 3.0 0 1 0 6.0 0a3.0 3.0 0 1 0 -6.0 0zM2156.00 565.07a3.0 3.0 0 1 0 6.0 0a3.0 3.0 0 1 0 -6.0 0zM2205.26 565.07a3.0 3.0 0 1 0 6.0 0a3.0 3.0 0 1 0 -6.0 0zM2254.52 565.07a3.0 3.0 0 1 0 6.0 0a3.0 3.0 0 1 0 -6.0 0zM2303.77 565.07a3.0 3.0 0 1 0 6.0 0a3.0 3.0 0 1 0 -6.0 0zM2353.03 565.07a3.0 3.0 0 1 0 6.0 0a3.0 3.0 0 1 0 -6.0 0zM2402.28 565.07a3.0 3.0 0 1 0 6.0 0a3.0 3.0 0 1 0 -6.0 0zM2451.54 565.07a3.0 3.0 0 1 0 6.0 0a3.0 3.0 0 1 0 -6.0 0zM2500.80 565.07a3.0 3.0 0 1 0 6.0 0a3.0 3.0 0 1 0 -6.0 0zM2550.05 565.07a3.0 3.0 0 1 0 6.0 0a3.0 3.0 0 1 0 -6.0 0zM2599.31 565.07a3.0 3.0 0 1 0 6.0 0a3.0 3.0 0 1 0 -6.0 0zM2648.56 565.07a3.0 3.0 0 1 0 6.0 0a3.0 3.0 0 1 0 -6.0 0zM2697.82 565.07a3.0 3.0 0 1 0 6.0 0a3.0 3.0 0 1 0 -6.0 0zM2747.08 565.07a3.0 3.0 0 1 0 6.0 0a3.0 3.0 0 1 0 -6.0 0zM2796.33 565.07a3.0 3.0 0 1 0 6.0 0a3.0 3.0 0 1 0 -6.0 0zM2845.59 565.07a3.0 3.0 0 1 0 6.0 0a3.0 3.0 0 1 0 -6.0 0zM2894.84 565.07a3.0 3.0 0 1 0 6.0 0a3.0 3.0 0 1 0 -6.0 0zM2944.10 565.07a3.0 3.0 0 1 0 6.0 0a3.0 3.0 0 1 0 -6.0 0zM2993.36 565.07a3.0 3.0 0 1 0 6.0 0a3.0 3.0 0 1 0 -6.0 0zM3042.61 565.07a3.0 3.0 0 1 0 6.0 0a3.0 3.0 0 1 0 -6.0 0zM3091.87 565.07a3.0 3.0 0 1 0 6.0 0a3.0 3.0 0 1 0 -6.0 0zM3141.12 565.07a3.0 3.0 0 1 0 6.0 0a3.0 3.0 0 1 0 -6.0 0zM3190.38 565.07a3.0 3.0 0 1 0 6.0 0a3.0 3.0 0 1 0 -6.0 0zM727.58 622.00a3.0 3.0 0 1 0 6.0 0a3.0 3.0 0 1 0 -6.0 0zM776.84 622.00a3.0 3.0 0 1 0 6.0 0a3.0 3.0 0 1 0 -6.0 0zM826.09 622.00a3.0 3.0 0 1 0 6.0 0a3.0 3.0 0 1 0 -6.0 0zM875.35 622.00a3.0 3.0 0 1 0 6.0 0a3.0 3.0 0 1 0 -6.0 0zM973.86 622.00a3.0 3.0 0 1 0 6.0 0a3.0 3.0 0 1 0 -6.0 0zM1023.12 622.00a3.0 3.0 0 1 0 6.0 0a3.0 3.0 0 1 0 -6.0 0zM1072.37 622.00a3.0 3.0 0 1 0 6.0 0a3.0 3.0 0 1 0 -6.0 0zM1121.63 622.00a3.0 3.0 0 1 0 6.0 0a3.0 3.0 0 1 0 -6.0 0zM1170.88 622.00a3.0 3.0 0 1 0 6.0 0a3.0 3.0 0 1 0 -6.0 0zM1220.14 622.00a3.0 3.0 0 1 0 6.0 0a3.0 3.0 0 1 0 -6.0 0zM1318.65 622.00a3.0 3.0 0 1 0 6.0 0a3.0 3.0 0 1 0 -6.0 0zM1367.91 622.00a3.0 3.0 0 1 0 6.0 0a3.0 3.0 0 1 0 -6.0 0zM1417.16 622.00a3.0 3.0 0 1 0 6.0 0a3.0 3.0 0 1 0 -6.0 0zM1466.42 622.00a3.0 3.0 0 1 0 6.0 0a3.0 3.0 0 1 0 -6.0 0zM1515.68 622.00a3.0 3.0 0 1 0 6.0 0a3.0 3.0 0 1 0 -6.0 0zM1663.44 622.00a3.0 3.0 0 1 0 6.0 0a3.0 3.0 0 1 0 -6.0 0zM1712.70 622.00a3.0 3.0 0 1 0 6.0 0a3.0 3.0 0 1 0 -6.0 0zM481.30 678.92a3.0 3.0 0 1 0 6.0 0a3.0 3.0 0 1 0 -6.0 0zM530.56 678.92a3.0 3.0 0 1 0 6.0 0a3.0 3.0 0 1 0 -6.0 0zM579.81 678.92a3.0 3.0 0 1 0 6.0 0a3.0 3.0 0 1 0 -6.0 0zM629.07 678.92a3.0 3.0 0 1 0 6.0 0a3.0 3.0 0 1 0 -6.0 0zM678.32 678.92a3.0 3.0 0 1 0 6.0 0a3.0 3.0 0 1 0 -6.0 0zM727.58 678.92a3.0 3.0 0 1 0 6.0 0a3.0 3.0 0 1 0 -6.0 0zM776.84 678.92a3.0 3.0 0 1 0 6.0 0a3.0 3.0 0 1 0 -6.0 0zM826.09 678.92a3.0 3.0 0 1 0 6.0 0a3.0 3.0 0 1 0 -6.0 0zM875.35 678.92a3.0 3.0 0 1 0 6.0 0a3.0 3.0 0 1 0 -6.0 0zM924.60 678.92a3.0 3.0 0 1 0 6.0 0a3.0 3.0 0 1 0 -6.0 0zM973.86 678.92a3.0 3.0 0 1 0 6.0 0a3.0 3.0 0 1 0 -6.0 0zM1023.12 678.92a3.0 3.0 0 1 0 6.0 0a3.0 3.0 0 1 0 -6.0 0zM1072.37 678.92a3.0 3.0 0 1 0 6.0 0a3.0 3.0 0 1 0 -6.0 0zM1121.63 678.92a3.0 3.0 0 1 0 6.0 0a3.0 3.0 0 1 0 -6.0 0zM1170.88 678.92a3.0 3.0 0 1 0 6.0 0a3.0 3.0 0 1 0 -6.0 0zM1220.14 678.92a3.0 3.0 0 1 0 6.0 0a3.0 3.0 0 1 0 -6.0 0zM1269.40 678.92a3.0 3.0 0 1 0 6.0 0a3.0 3.0 0 1 0 -6.0 0zM1318.65 678.92a3.0 3.0 0 1 0 6.0 0a3.0 3.0 0 1 0 -6.0 0zM1367.91 678.92a3.0 3.0 0 1 0 6.0 0a3.0 3.0 0 1 0 -6.0 0zM1417.16 678.92a3.0 3.0 0 1 0 6.0 0a3.0 3.0 0 1 0 -6.0 0zM1466.42 678.92a3.0 3.0 0 1 0 6.0 0a3.0 3.0 0 1 0 -6.0 0zM1515.68 678.92a3.0 3.0 0 1 0 6.0 0a3.0 3.0 0 1 0 -6.0 0zM1564.93 678.92a3.0 3.0 0 1 0 6.0 0a3.0 3.0 0 1 0 -6.0 0zM1663.44 678.92a3.0 3.0 0 1 0 6.0 0a3.0 3.0 0 1 0 -6.0 0zM1712.70 678.92a3.0 3.0 0 1 0 6.0 0a3.0 3.0 0 1 0 -6.0 0zM1860.47 678.92a3.0 3.0 0 1 0 6.0 0a3.0 3.0 0 1 0 -6.0 0zM1909.72 678.92a3.0 3.0 0 1 0 6.0 0a3.0 3.0 0 1 0 -6.0 0zM1958.98 678.92a3.0 3.0 0 1 0 6.0 0a3.0 3.0 0 1 0 -6.0 0zM2008.24 678.92a3.0 3.0 0 1 0 6.0 0a3.0 3.0 0 1 0 -6.0 0zM2057.49 678.92a3.0 3.0 0 1 0 6.0 0a3.0 3.0 0 1 0 -6.0 0zM2106.75 678.92a3.0 3.0 0 1 0 6.0 0a3.0 3.0 0 1 0 -6.0 0zM2156.00 678.92a3.0 3.0 0 1 0 6.0 0a3.0 3.0 0 1 0 -6.0 0zM2205.26 678.92a3.0 3.0 0 1 0 6.0 0a3.0 3.0 0 1 0 -6.0 0zM2254.52 678.92a3.0 3.0 0 1 0 6.0 0a3.0 3.0 0 1 0 -6.0 0zM2303.77 678.92a3.0 3.0 0 1 0 6.0 0a3.0 3.0 0 1 0 -6.0 0zM2353.03 678.92a3.0 3.0 0 1 0 6.0 0a3.0 3.0 0 1 0 -6.0 0zM2402.28 678.92a3.0 3.0 0 1 0 6.0 0a3.0 3.0 0 1 0 -6.0 0zM2451.54 678.92a3.0 3.0 0 1 0 6.0 0a3.0 3.0 0 1 0 -6.0 0zM2500.80 678.92a3.0 3.0 0 1 0 6.0 0a3.0 3.0 0 1 0 -6.0 0zM2550.05 678.92a3.0 3.0 0 1 0 6.0 0a3.0 3.0 0 1 0 -6.0 0zM2599.31 678.92a3.0 3.0 0 1 0 6.0 0a3.0 3.0 0 1 0 -6.0 0zM2648.56 678.92a3.0 3.0 0 1 0 6.0 0a3.0 3.0 0 1 0 -6.0 0zM2697.82 678.92a3.0 3.0 0 1 0 6.0 0a3.0 3.0 0 1 0 -6.0 0zM2747.08 678.92a3.0 3.0 0 1 0 6.0 0a3.0 3.0 0 1 0 -6.0 0zM2796.33 678.92a3.0 3.0 0 1 0 6.0 0a3.0 3.0 0 1 0 -6.0 0zM2845.59 678.92a3.0 3.0 0 1 0 6.0 0a3.0 3.0 0 1 0 -6.0 0zM2894.84 678.92a3.0 3.0 0 1 0 6.0 0a3.0 3.0 0 1 0 -6.0 0zM2944.10 678.92a3.0 3.0 0 1 0 6.0 0a3.0 3.0 0 1 0 -6.0 0zM2993.36 678.92a3.0 3.0 0 1 0 6.0 0a3.0 3.0 0 1 0 -6.0 0zM3042.61 678.92a3.0 3.0 0 1 0 6.0 0a3.0 3.0 0 1 0 -6.0 0zM3091.87 678.92a3.0 3.0 0 1 0 6.0 0a3.0 3.0 0 1 0 -6.0 0zM3141.12 678.92a3.0 3.0 0 1 0 6.0 0a3.0 3.0 0 1 0 -6.0 0zM3190.38 678.92a3.0 3.0 0 1 0 6.0 0a3.0 3.0 0 1 0 -6.0 0zM481.30 735.85a3.0 3.0 0 1 0 6.0 0a3.0 3.0 0 1 0 -6.0 0zM530.56 735.85a3.0 3.0 0 1 0 6.0 0a3.0 3.0 0 1 0 -6.0 0zM579.81 735.85a3.0 3.0 0 1 0 6.0 0a3.0 3.0 0 1 0 -6.0 0zM629.07 735.85a3.0 3.0 0 1 0 6.0 0a3.0 3.0 0 1 0 -6.0 0zM678.32 735.85a3.0 3.0 0 1 0 6.0 0a3.0 3.0 0 1 0 -6.0 0zM727.58 735.85a3.0 3.0 0 1 0 6.0 0a3.0 3.0 0 1 0 -6.0 0zM776.84 735.85a3.0 3.0 0 1 0 6.0 0a3.0 3.0 0 1 0 -6.0 0zM826.09 735.85a3.0 3.0 0 1 0 6.0 0a3.0 3.0 0 1 0 -6.0 0zM875.35 735.85a3.0 3.0 0 1 0 6.0 0a3.0 3.0 0 1 0 -6.0 0zM924.60 735.85a3.0 3.0 0 1 0 6.0 0a3.0 3.0 0 1 0 -6.0 0zM973.86 735.85a3.0 3.0 0 1 0 6.0 0a3.0 3.0 0 1 0 -6.0 0zM1023.12 735.85a3.0 3.0 0 1 0 6.0 0a3.0 3.0 0 1 0 -6.0 0zM1072.37 735.85a3.0 3.0 0 1 0 6.0 0a3.0 3.0 0 1 0 -6.0 0zM1121.63 735.85a3.0 3.0 0 1 0 6.0 0a3.0 3.0 0 1 0 -6.0 0zM1170.88 735.85a3.0 3.0 0 1 0 6.0 0a3.0 3.0 0 1 0 -6.0 0zM1220.14 735.85a3.0 3.0 0 1 0 6.0 0a3.0 3.0 0 1 0 -6.0 0zM1318.65 735.85a3.0 3.0 0 1 0 6.0 0a3.0 3.0 0 1 0 -6.0 0zM1367.91 735.85a3.0 3.0 0 1 0 6.0 0a3.0 3.0 0 1 0 -6.0 0zM1417.16 735.85a3.0 3.0 0 1 0 6.0 0a3.0 3.0 0 1 0 -6.0 0zM1466.42 735.85a3.0 3.0 0 1 0 6.0 0a3.0 3.0 0 1 0 -6.0 0zM1515.68 735.85a3.0 3.0 0 1 0 6.0 0a3.0 3.0 0 1 0 -6.0 0zM1564.93 735.85a3.0 3.0 0 1 0 6.0 0a3.0 3.0 0 1 0 -6.0 0zM1614.19 735.85a3.0 3.0 0 1 0 6.0 0a3.0 3.0 0 1 0 -6.0 0zM1663.44 735.85a3.0 3.0 0 1 0 6.0 0a3.0 3.0 0 1 0 -6.0 0zM1712.70 735.85a3.0 3.0 0 1 0 6.0 0a3.0 3.0 0 1 0 -6.0 0zM1761.96 735.85a3.0 3.0 0 1 0 6.0 0a3.0 3.0 0 1 0 -6.0 0zM1860.47 735.85a3.0 3.0 0 1 0 6.0 0a3.0 3.0 0 1 0 -6.0 0zM1909.72 735.85a3.0 3.0 0 1 0 6.0 0a3.0 3.0 0 1 0 -6.0 0zM1958.98 735.85a3.0 3.0 0 1 0 6.0 0a3.0 3.0 0 1 0 -6.0 0zM2008.24 735.85a3.0 3.0 0 1 0 6.0 0a3.0 3.0 0 1 0 -6.0 0zM2057.49 735.85a3.0 3.0 0 1 0 6.0 0a3.0 3.0 0 1 0 -6.0 0zM2106.75 735.85a3.0 3.0 0 1 0 6.0 0a3.0 3.0 0 1 0 -6.0 0zM2156.00 735.85a3.0 3.0 0 1 0 6.0 0a3.0 3.0 0 1 0 -6.0 0zM2205.26 735.85a3.0 3.0 0 1 0 6.0 0a3.0 3.0 0 1 0 -6.0 0zM2451.54 735.85a3.0 3.0 0 1 0 6.0 0a3.0 3.0 0 1 0 -6.0 0zM2500.80 735.85a3.0 3.0 0 1 0 6.0 0a3.0 3.0 0 1 0 -6.0 0zM2550.05 735.85a3.0 3.0 0 1 0 6.0 0a3.0 3.0 0 1 0 -6.0 0zM2599.31 735.85a3.0 3.0 0 1 0 6.0 0a3.0 3.0 0 1 0 -6.0 0zM2648.56 735.85a3.0 3.0 0 1 0 6.0 0a3.0 3.0 0 1 0 -6.0 0zM2697.82 735.85a3.0 3.0 0 1 0 6.0 0a3.0 3.0 0 1 0 -6.0 0zM2747.08 735.85a3.0 3.0 0 1 0 6.0 0a3.0 3.0 0 1 0 -6.0 0zM2796.33 735.85a3.0 3.0 0 1 0 6.0 0a3.0 3.0 0 1 0 -6.0 0zM2845.59 735.85a3.0 3.0 0 1 0 6.0 0a3.0 3.0 0 1 0 -6.0 0zM2993.36 735.85a3.0 3.0 0 1 0 6.0 0a3.0 3.0 0 1 0 -6.0 0zM3042.61 735.85a3.0 3.0 0 1 0 6.0 0a3.0 3.0 0 1 0 -6.0 0zM3091.87 735.85a3.0 3.0 0 1 0 6.0 0a3.0 3.0 0 1 0 -6.0 0zM3141.12 735.85a3.0 3.0 0 1 0 6.0 0a3.0 3.0 0 1 0 -6.0 0zM3190.38 735.85a3.0 3.0 0 1 0 6.0 0a3.0 3.0 0 1 0 -6.0 0zM481.30 792.77a3.0 3.0 0 1 0 6.0 0a3.0 3.0 0 1 0 -6.0 0zM530.56 792.77a3.0 3.0 0 1 0 6.0 0a3.0 3.0 0 1 0 -6.0 0zM579.81 792.77a3.0 3.0 0 1 0 6.0 0a3.0 3.0 0 1 0 -6.0 0zM629.07 792.77a3.0 3.0 0 1 0 6.0 0a3.0 3.0 0 1 0 -6.0 0zM678.32 792.77a3.0 3.0 0 1 0 6.0 0a3.0 3.0 0 1 0 -6.0 0zM727.58 792.77a3.0 3.0 0 1 0 6.0 0a3.0 3.0 0 1 0 -6.0 0zM776.84 792.77a3.0 3.0 0 1 0 6.0 0a3.0 3.0 0 1 0 -6.0 0zM826.09 792.77a3.0 3.0 0 1 0 6.0 0a3.0 3.0 0 1 0 -6.0 0zM875.35 792.77a3.0 3.0 0 1 0 6.0 0a3.0 3.0 0 1 0 -6.0 0zM924.60 792.77a3.0 3.0 0 1 0 6.0 0a3.0 3.0 0 1 0 -6.0 0zM973.86 792.77a3.0 3.0 0 1 0 6.0 0a3.0 3.0 0 1 0 -6.0 0zM1023.12 792.77a3.0 3.0 0 1 0 6.0 0a3.0 3.0 0 1 0 -6.0 0zM1072.37 792.77a3.0 3.0 0 1 0 6.0 0a3.0 3.0 0 1 0 -6.0 0zM1121.63 792.77a3.0 3.0 0 1 0 6.0 0a3.0 3.0 0 1 0 -6.0 0zM1170.88 792.77a3.0 3.0 0 1 0 6.0 0a3.0 3.0 0 1 0 -6.0 0zM1220.14 792.77a3.0 3.0 0 1 0 6.0 0a3.0 3.0 0 1 0 -6.0 0zM1269.40 792.77a3.0 3.0 0 1 0 6.0 0a3.0 3.0 0 1 0 -6.0 0zM1318.65 792.77a3.0 3.0 0 1 0 6.0 0a3.0 3.0 0 1 0 -6.0 0zM1367.91 792.77a3.0 3.0 0 1 0 6.0 0a3.0 3.0 0 1 0 -6.0 0zM1417.16 792.77a3.0 3.0 0 1 0 6.0 0a3.0 3.0 0 1 0 -6.0 0zM1466.42 792.77a3.0 3.0 0 1 0 6.0 0a3.0 3.0 0 1 0 -6.0 0zM1515.68 792.77a3.0 3.0 0 1 0 6.0 0a3.0 3.0 0 1 0 -6.0 0zM1564.93 792.77a3.0 3.0 0 1 0 6.0 0a3.0 3.0 0 1 0 -6.0 0zM1614.19 792.77a3.0 3.0 0 1 0 6.0 0a3.0 3.0 0 1 0 -6.0 0zM1663.44 792.77a3.0 3.0 0 1 0 6.0 0a3.0 3.0 0 1 0 -6.0 0zM1712.70 792.77a3.0 3.0 0 1 0 6.0 0a3.0 3.0 0 1 0 -6.0 0zM1811.21 792.77a3.0 3.0 0 1 0 6.0 0a3.0 3.0 0 1 0 -6.0 0zM1860.47 792.77a3.0 3.0 0 1 0 6.0 0a3.0 3.0 0 1 0 -6.0 0zM1909.72 792.77a3.0 3.0 0 1 0 6.0 0a3.0 3.0 0 1 0 -6.0 0zM1958.98 792.77a3.0 3.0 0 1 0 6.0 0a3.0 3.0 0 1 0 -6.0 0zM2008.24 792.77a3.0 3.0 0 1 0 6.0 0a3.0 3.0 0 1 0 -6.0 0zM2057.49 792.77a3.0 3.0 0 1 0 6.0 0a3.0 3.0 0 1 0 -6.0 0zM2106.75 792.77a3.0 3.0 0 1 0 6.0 0a3.0 3.0 0 1 0 -6.0 0zM2156.00 792.77a3.0 3.0 0 1 0 6.0 0a3.0 3.0 0 1 0 -6.0 0zM2205.26 792.77a3.0 3.0 0 1 0 6.0 0a3.0 3.0 0 1 0 -6.0 0zM2254.52 792.77a3.0 3.0 0 1 0 6.0 0a3.0 3.0 0 1 0 -6.0 0zM2303.77 792.77a3.0 3.0 0 1 0 6.0 0a3.0 3.0 0 1 0 -6.0 0zM2353.03 792.77a3.0 3.0 0 1 0 6.0 0a3.0 3.0 0 1 0 -6.0 0zM2402.28 792.77a3.0 3.0 0 1 0 6.0 0a3.0 3.0 0 1 0 -6.0 0zM2451.54 792.77a3.0 3.0 0 1 0 6.0 0a3.0 3.0 0 1 0 -6.0 0zM2500.80 792.77a3.0 3.0 0 1 0 6.0 0a3.0 3.0 0 1 0 -6.0 0zM2550.05 792.77a3.0 3.0 0 1 0 6.0 0a3.0 3.0 0 1 0 -6.0 0zM2599.31 792.77a3.0 3.0 0 1 0 6.0 0a3.0 3.0 0 1 0 -6.0 0zM2648.56 792.77a3.0 3.0 0 1 0 6.0 0a3.0 3.0 0 1 0 -6.0 0zM2697.82 792.77a3.0 3.0 0 1 0 6.0 0a3.0 3.0 0 1 0 -6.0 0zM2747.08 792.77a3.0 3.0 0 1 0 6.0 0a3.0 3.0 0 1 0 -6.0 0zM2796.33 792.77a3.0 3.0 0 1 0 6.0 0a3.0 3.0 0 1 0 -6.0 0zM2845.59 792.77a3.0 3.0 0 1 0 6.0 0a3.0 3.0 0 1 0 -6.0 0zM2894.84 792.77a3.0 3.0 0 1 0 6.0 0a3.0 3.0 0 1 0 -6.0 0zM2944.10 792.77a3.0 3.0 0 1 0 6.0 0a3.0 3.0 0 1 0 -6.0 0zM2993.36 792.77a3.0 3.0 0 1 0 6.0 0a3.0 3.0 0 1 0 -6.0 0zM3042.61 792.77a3.0 3.0 0 1 0 6.0 0a3.0 3.0 0 1 0 -6.0 0zM3091.87 792.77a3.0 3.0 0 1 0 6.0 0a3.0 3.0 0 1 0 -6.0 0zM3141.12 792.77a3.0 3.0 0 1 0 6.0 0a3.0 3.0 0 1 0 -6.0 0zM3190.38 792.77a3.0 3.0 0 1 0 6.0 0a3.0 3.0 0 1 0 -6.0 0zM481.30 849.70a3.0 3.0 0 1 0 6.0 0a3.0 3.0 0 1 0 -6.0 0zM530.56 849.70a3.0 3.0 0 1 0 6.0 0a3.0 3.0 0 1 0 -6.0 0zM579.81 849.70a3.0 3.0 0 1 0 6.0 0a3.0 3.0 0 1 0 -6.0 0zM629.07 849.70a3.0 3.0 0 1 0 6.0 0a3.0 3.0 0 1 0 -6.0 0zM678.32 849.70a3.0 3.0 0 1 0 6.0 0a3.0 3.0 0 1 0 -6.0 0zM924.60 849.70a3.0 3.0 0 1 0 6.0 0a3.0 3.0 0 1 0 -6.0 0zM1072.37 849.70a3.0 3.0 0 1 0 6.0 0a3.0 3.0 0 1 0 -6.0 0zM1121.63 849.70a3.0 3.0 0 1 0 6.0 0a3.0 3.0 0 1 0 -6.0 0zM1269.40 849.70a3.0 3.0 0 1 0 6.0 0a3.0 3.0 0 1 0 -6.0 0zM1318.65 849.70a3.0 3.0 0 1 0 6.0 0a3.0 3.0 0 1 0 -6.0 0zM1466.42 849.70a3.0 3.0 0 1 0 6.0 0a3.0 3.0 0 1 0 -6.0 0zM1515.68 849.70a3.0 3.0 0 1 0 6.0 0a3.0 3.0 0 1 0 -6.0 0zM1564.93 849.70a3.0 3.0 0 1 0 6.0 0a3.0 3.0 0 1 0 -6.0 0zM1614.19 849.70a3.0 3.0 0 1 0 6.0 0a3.0 3.0 0 1 0 -6.0 0zM1663.44 849.70a3.0 3.0 0 1 0 6.0 0a3.0 3.0 0 1 0 -6.0 0zM1712.70 849.70a3.0 3.0 0 1 0 6.0 0a3.0 3.0 0 1 0 -6.0 0zM1761.96 849.70a3.0 3.0 0 1 0 6.0 0a3.0 3.0 0 1 0 -6.0 0zM1958.98 849.70a3.0 3.0 0 1 0 6.0 0a3.0 3.0 0 1 0 -6.0 0zM2008.24 849.70a3.0 3.0 0 1 0 6.0 0a3.0 3.0 0 1 0 -6.0 0zM2057.49 849.70a3.0 3.0 0 1 0 6.0 0a3.0 3.0 0 1 0 -6.0 0zM2106.75 849.70a3.0 3.0 0 1 0 6.0 0a3.0 3.0 0 1 0 -6.0 0zM2156.00 849.70a3.0 3.0 0 1 0 6.0 0a3.0 3.0 0 1 0 -6.0 0zM2205.26 849.70a3.0 3.0 0 1 0 6.0 0a3.0 3.0 0 1 0 -6.0 0zM2353.03 849.70a3.0 3.0 0 1 0 6.0 0a3.0 3.0 0 1 0 -6.0 0zM2402.28 849.70a3.0 3.0 0 1 0 6.0 0a3.0 3.0 0 1 0 -6.0 0zM2451.54 849.70a3.0 3.0 0 1 0 6.0 0a3.0 3.0 0 1 0 -6.0 0zM2500.80 849.70a3.0 3.0 0 1 0 6.0 0a3.0 3.0 0 1 0 -6.0 0zM2550.05 849.70a3.0 3.0 0 1 0 6.0 0a3.0 3.0 0 1 0 -6.0 0zM2599.31 849.70a3.0 3.0 0 1 0 6.0 0a3.0 3.0 0 1 0 -6.0 0zM2648.56 849.70a3.0 3.0 0 1 0 6.0 0a3.0 3.0 0 1 0 -6.0 0zM2697.82 849.70a3.0 3.0 0 1 0 6.0 0a3.0 3.0 0 1 0 -6.0 0zM2747.08 849.70a3.0 3.0 0 1 0 6.0 0a3.0 3.0 0 1 0 -6.0 0zM2796.33 849.70a3.0 3.0 0 1 0 6.0 0a3.0 3.0 0 1 0 -6.0 0zM2845.59 849.70a3.0 3.0 0 1 0 6.0 0a3.0 3.0 0 1 0 -6.0 0zM2993.36 849.70a3.0 3.0 0 1 0 6.0 0a3.0 3.0 0 1 0 -6.0 0zM3042.61 849.70a3.0 3.0 0 1 0 6.0 0a3.0 3.0 0 1 0 -6.0 0zM3091.87 849.70a3.0 3.0 0 1 0 6.0 0a3.0 3.0 0 1 0 -6.0 0zM3141.12 849.70a3.0 3.0 0 1 0 6.0 0a3.0 3.0 0 1 0 -6.0 0zM3190.38 849.70a3.0 3.0 0 1 0 6.0 0a3.0 3.0 0 1 0 -6.0 0zM481.30 906.62a3.0 3.0 0 1 0 6.0 0a3.0 3.0 0 1 0 -6.0 0zM530.56 906.62a3.0 3.0 0 1 0 6.0 0a3.0 3.0 0 1 0 -6.0 0zM579.81 906.62a3.0 3.0 0 1 0 6.0 0a3.0 3.0 0 1 0 -6.0 0zM629.07 906.62a3.0 3.0 0 1 0 6.0 0a3.0 3.0 0 1 0 -6.0 0zM678.32 906.62a3.0 3.0 0 1 0 6.0 0a3.0 3.0 0 1 0 -6.0 0zM924.60 906.62a3.0 3.0 0 1 0 6.0 0a3.0 3.0 0 1 0 -6.0 0zM1564.93 906.62a3.0 3.0 0 1 0 6.0 0a3.0 3.0 0 1 0 -6.0 0zM1958.98 906.62a3.0 3.0 0 1 0 6.0 0a3.0 3.0 0 1 0 -6.0 0zM2008.24 906.62a3.0 3.0 0 1 0 6.0 0a3.0 3.0 0 1 0 -6.0 0zM2057.49 906.62a3.0 3.0 0 1 0 6.0 0a3.0 3.0 0 1 0 -6.0 0zM2106.75 906.62a3.0 3.0 0 1 0 6.0 0a3.0 3.0 0 1 0 -6.0 0zM2156.00 906.62a3.0 3.0 0 1 0 6.0 0a3.0 3.0 0 1 0 -6.0 0zM2205.26 906.62a3.0 3.0 0 1 0 6.0 0a3.0 3.0 0 1 0 -6.0 0zM2599.31 906.62a3.0 3.0 0 1 0 6.0 0a3.0 3.0 0 1 0 -6.0 0zM2648.56 906.62a3.0 3.0 0 1 0 6.0 0a3.0 3.0 0 1 0 -6.0 0zM2697.82 906.62a3.0 3.0 0 1 0 6.0 0a3.0 3.0 0 1 0 -6.0 0zM2747.08 906.62a3.0 3.0 0 1 0 6.0 0a3.0 3.0 0 1 0 -6.0 0zM2796.33 906.62a3.0 3.0 0 1 0 6.0 0a3.0 3.0 0 1 0 -6.0 0zM2845.59 906.62a3.0 3.0 0 1 0 6.0 0a3.0 3.0 0 1 0 -6.0 0zM2993.36 906.62a3.0 3.0 0 1 0 6.0 0a3.0 3.0 0 1 0 -6.0 0zM3042.61 906.62a3.0 3.0 0 1 0 6.0 0a3.0 3.0 0 1 0 -6.0 0zM3091.87 906.62a3.0 3.0 0 1 0 6.0 0a3.0 3.0 0 1 0 -6.0 0zM3141.12 906.62a3.0 3.0 0 1 0 6.0 0a3.0 3.0 0 1 0 -6.0 0zM3190.38 906.62a3.0 3.0 0 1 0 6.0 0a3.0 3.0 0 1 0 -6.0 0zM481.30 963.55a3.0 3.0 0 1 0 6.0 0a3.0 3.0 0 1 0 -6.0 0zM530.56 963.55a3.0 3.0 0 1 0 6.0 0a3.0 3.0 0 1 0 -6.0 0zM579.81 963.55a3.0 3.0 0 1 0 6.0 0a3.0 3.0 0 1 0 -6.0 0zM629.07 963.55a3.0 3.0 0 1 0 6.0 0a3.0 3.0 0 1 0 -6.0 0zM678.32 963.55a3.0 3.0 0 1 0 6.0 0a3.0 3.0 0 1 0 -6.0 0zM924.60 963.55a3.0 3.0 0 1 0 6.0 0a3.0 3.0 0 1 0 -6.0 0zM1466.42 963.55a3.0 3.0 0 1 0 6.0 0a3.0 3.0 0 1 0 -6.0 0zM1515.68 963.55a3.0 3.0 0 1 0 6.0 0a3.0 3.0 0 1 0 -6.0 0zM1958.98 963.55a3.0 3.0 0 1 0 6.0 0a3.0 3.0 0 1 0 -6.0 0zM2008.24 963.55a3.0 3.0 0 1 0 6.0 0a3.0 3.0 0 1 0 -6.0 0zM2057.49 963.55a3.0 3.0 0 1 0 6.0 0a3.0 3.0 0 1 0 -6.0 0zM2106.75 963.55a3.0 3.0 0 1 0 6.0 0a3.0 3.0 0 1 0 -6.0 0zM2156.00 963.55a3.0 3.0 0 1 0 6.0 0a3.0 3.0 0 1 0 -6.0 0zM2205.26 963.55a3.0 3.0 0 1 0 6.0 0a3.0 3.0 0 1 0 -6.0 0zM2550.05 963.55a3.0 3.0 0 1 0 6.0 0a3.0 3.0 0 1 0 -6.0 0zM2599.31 963.55a3.0 3.0 0 1 0 6.0 0a3.0 3.0 0 1 0 -6.0 0zM2648.56 963.55a3.0 3.0 0 1 0 6.0 0a3.0 3.0 0 1 0 -6.0 0zM2697.82 963.55a3.0 3.0 0 1 0 6.0 0a3.0 3.0 0 1 0 -6.0 0zM2747.08 963.55a3.0 3.0 0 1 0 6.0 0a3.0 3.0 0 1 0 -6.0 0zM2796.33 963.55a3.0 3.0 0 1 0 6.0 0a3.0 3.0 0 1 0 -6.0 0zM2845.59 963.55a3.0 3.0 0 1 0 6.0 0a3.0 3.0 0 1 0 -6.0 0zM2993.36 963.55a3.0 3.0 0 1 0 6.0 0a3.0 3.0 0 1 0 -6.0 0zM3042.61 963.55a3.0 3.0 0 1 0 6.0 0a3.0 3.0 0 1 0 -6.0 0zM3091.87 963.55a3.0 3.0 0 1 0 6.0 0a3.0 3.0 0 1 0 -6.0 0zM3141.12 963.55a3.0 3.0 0 1 0 6.0 0a3.0 3.0 0 1 0 -6.0 0zM3190.38 963.55a3.0 3.0 0 1 0 6.0 0a3.0 3.0 0 1 0 -6.0 0zM481.30 1020.48a3.0 3.0 0 1 0 6.0 0a3.0 3.0 0 1 0 -6.0 0zM530.56 1020.48a3.0 3.0 0 1 0 6.0 0a3.0 3.0 0 1 0 -6.0 0zM579.81 1020.48a3.0 3.0 0 1 0 6.0 0a3.0 3.0 0 1 0 -6.0 0zM629.07 1020.48a3.0 3.0 0 1 0 6.0 0a3.0 3.0 0 1 0 -6.0 0zM678.32 1020.48a3.0 3.0 0 1 0 6.0 0a3.0 3.0 0 1 0 -6.0 0zM924.60 1020.48a3.0 3.0 0 1 0 6.0 0a3.0 3.0 0 1 0 -6.0 0zM1170.88 1020.48a3.0 3.0 0 1 0 6.0 0a3.0 3.0 0 1 0 -6.0 0zM1220.14 1020.48a3.0 3.0 0 1 0 6.0 0a3.0 3.0 0 1 0 -6.0 0zM1318.65 1020.48a3.0 3.0 0 1 0 6.0 0a3.0 3.0 0 1 0 -6.0 0zM1466.42 1020.48a3.0 3.0 0 1 0 6.0 0a3.0 3.0 0 1 0 -6.0 0zM1515.68 1020.48a3.0 3.0 0 1 0 6.0 0a3.0 3.0 0 1 0 -6.0 0zM1564.93 1020.48a3.0 3.0 0 1 0 6.0 0a3.0 3.0 0 1 0 -6.0 0zM1663.44 1020.48a3.0 3.0 0 1 0 6.0 0a3.0 3.0 0 1 0 -6.0 0zM1712.70 1020.48a3.0 3.0 0 1 0 6.0 0a3.0 3.0 0 1 0 -6.0 0zM1958.98 1020.48a3.0 3.0 0 1 0 6.0 0a3.0 3.0 0 1 0 -6.0 0zM2008.24 1020.48a3.0 3.0 0 1 0 6.0 0a3.0 3.0 0 1 0 -6.0 0zM2057.49 1020.48a3.0 3.0 0 1 0 6.0 0a3.0 3.0 0 1 0 -6.0 0zM2106.75 1020.48a3.0 3.0 0 1 0 6.0 0a3.0 3.0 0 1 0 -6.0 0zM2156.00 1020.48a3.0 3.0 0 1 0 6.0 0a3.0 3.0 0 1 0 -6.0 0zM2205.26 1020.48a3.0 3.0 0 1 0 6.0 0a3.0 3.0 0 1 0 -6.0 0zM2254.52 1020.48a3.0 3.0 0 1 0 6.0 0a3.0 3.0 0 1 0 -6.0 0zM2451.54 1020.48a3.0 3.0 0 1 0 6.0 0a3.0 3.0 0 1 0 -6.0 0zM2500.80 1020.48a3.0 3.0 0 1 0 6.0 0a3.0 3.0 0 1 0 -6.0 0zM2550.05 1020.48a3.0 3.0 0 1 0 6.0 0a3.0 3.0 0 1 0 -6.0 0zM2599.31 1020.48a3.0 3.0 0 1 0 6.0 0a3.0 3.0 0 1 0 -6.0 0zM2648.56 1020.48a3.0 3.0 0 1 0 6.0 0a3.0 3.0 0 1 0 -6.0 0zM2697.82 1020.48a3.0 3.0 0 1 0 6.0 0a3.0 3.0 0 1 0 -6.0 0zM2747.08 1020.48a3.0 3.0 0 1 0 6.0 0a3.0 3.0 0 1 0 -6.0 0zM2796.33 1020.48a3.0 3.0 0 1 0 6.0 0a3.0 3.0 0 1 0 -6.0 0zM2845.59 1020.48a3.0 3.0 0 1 0 6.0 0a3.0 3.0 0 1 0 -6.0 0zM2993.36 1020.48a3.0 3.0 0 1 0 6.0 0a3.0 3.0 0 1 0 -6.0 0zM3042.61 1020.48a3.0 3.0 0 1 0 6.0 0a3.0 3.0 0 1 0 -6.0 0zM3091.87 1020.48a3.0 3.0 0 1 0 6.0 0a3.0 3.0 0 1 0 -6.0 0zM3141.12 1020.48a3.0 3.0 0 1 0 6.0 0a3.0 3.0 0 1 0 -6.0 0zM3190.38 1020.48a3.0 3.0 0 1 0 6.0 0a3.0 3.0 0 1 0 -6.0 0z" fill="#333333"/>
<circle cx="730.58" cy="166.60" r="23.6" fill="rgba(255,255,255,0.5)" stroke="rgba(0,0,0,0.5)" stroke-width="3.3"/>
<circle cx="1173.88" cy="166.60" r="23.6" fill="rgba(255,255,255,0.5)" stroke="rgba(0,0,0,0.5)" stroke-width="3.3"/>
<circle cx="1814.21" cy="166.60" r="23.6" fill="rgba(255,255,255,0.5)" stroke="rgba(0,0,0,0.5)" stroke-width="3.3"/>
<circle cx="2897.84" cy="166.60" r="23.6" fill="rgba(255,255,255,0.5)" stroke="rgba(0,0,0,0.5)" stroke-width="3.3"/>
<circle cx="2947.10" cy="166.60" r="23.6" fill="rgba(255,255,255,0.5)" stroke="rgba(0,0,0,0.5)" stroke-width="3.3"/>
<circle cx="730.58" cy="223.52" r="23.6" fill="rgba(255,255,255,0.5)" stroke="rgba(0,0,0,0.5)" stroke-width="3.3"/>
<circle cx="779.84" cy="223.52" r="23.6" fill="rgba(255,255,255,0.5)" stroke="rgba(0,0,0,0.5)" stroke-width="3.3"/>
<circle cx="829.09" cy="223.52" r="23.6" fill="rgba(255,255,255,0.5)" stroke="rgba(0,0,0,0.5)" stroke-width="3.3"/>
<circle cx="878.35" cy="223.52" r="23.6" fill="rgba(255,255,255,0.5)" stroke="rgba(0,0,0,0.5)" stroke-width="3.3"/>
<circle cx="976.86" cy="223.52" r="23.6" fill="rgba(255,255,255,0.5)" stroke="rgba(0,0,0,0.5)" stroke-width="3.3"/>
<circle cx="1026.12" cy="223.52" r="23.6" fill="rgba(255,255,255,0.5)" stroke="rgba(0,0,0,0.5)" stroke-width="3.3"/>
<circle cx="1075.37" cy="223.52" r="23.6" fill="rgba(255,255,255,0.5)" stroke="rgba(0,0,0,0.5)" stroke-width="3.3"/>
<circle cx="1124.63" cy="223.52" r="23.6" fill="rgba(255,255,255,0.5)" stroke="rgba(0,0,0,0.5)" stroke-width="3.3"/>
<circle cx="1370.91" cy="223.52" r="23.6" fill="rgba(255,255,255,0.5)" stroke="rgba(0,0,0,0.5)" stroke-width="3.3"/>
<circle cx="1420.16" cy="223.52" r="23.6" fill="rgba(255,255,255,0.5)" stroke="rgba(0,0,0,0.5)" stroke-width="3.3"/>
<circle cx="1617.19" cy="223.52" r="23.6" fill="rgba(255,255,255,0.5)" stroke="rgba(0,0,0,0.5)" stroke-width="3.3"/>
<circle cx="1764.96" cy="223.52" r="23.6" fill="rgba(255,255,255,0.5)" stroke="rgba(0,0,0,0.5)" stroke-width="3.3"/>
<circle cx="927.60" cy="280.45" r="23.6" fill="rgba(255,255,255,0.5)" stroke="rgba(0,0,0,0.5)" stroke-width="3.3"/>
<circle cx="730.58" cy="337.38" r="23.6" fill="rgba(255,255,255,0.5)" stroke="rgba(0,0,0,0.5)" stroke-width="3.3"/>
<circle cx="779.84" cy="337.38" r="23.6" fill="rgba(255,255,255,0.5)" stroke="rgba(0,0,0,0.5)" stroke-width="3.3"/>
<circle cx="829.09" cy="337.38" r="23.6" fill="rgba(255,255,255,0.5)" stroke="rgba(0,0,0,0.5)" stroke-width="3.3"/>
<circle cx="878.35" cy="337.38" r="23.6" fill="rgba(255,255,255,0.5)" stroke="rgba(0,0,0,0.5)" stroke-width="3.3"/>
<circle cx="976.86" cy="337.38" r="23.6" fill="rgba(255,255,255,0.5)" stroke="rgba(0,0,0,0.5)" stroke-width="3.3"/>
<circle cx="1026.12" cy="337.38" r="23.6" fill="rgba(255,255,255,0.5)" stroke="rgba(0,0,0,0.5)" stroke-width="3.3"/>
<circle cx="1075.37" cy="337.38" r="23.6" fill="rgba(255,255,255,0.5)" stroke="rgba(0,0,0,0.5)" stroke-width="3.3"/>
<circle cx="1124.63" cy="337.38" r="23.6" fill="rgba(255,255,255,0.5)" stroke="rgba(0,0,0,0.5)" stroke-width="3.3"/>
<circle cx="1173.88" cy="337.38" r="23.6" fill="rgba(255,255,255,0.5)" stroke="rgba(0,0,0,0.5)" stroke-width="3.3"/>
<circle cx="1223.14" cy="337.38" r="23.6" fill="rgba(255,255,255,0.5)" stroke="rgba(0,0,0,0.5)" stroke-width="3.3"/>
<circle cx="1370.91" cy="337.38" r="23.6" fill="rgba(255,255,255,0.5)" stroke="rgba(0,0,0,0.5)" stroke-width="3.3"/>
<circle cx="1420.16" cy="337.38" r="23.6" fill="rgba(255,255,255,0.5)" stroke="rgba(0,0,0,0.5)" stroke-width="3.3"/>
<circle cx="1617.19" cy="337.38" r="23.6" fill="rgba(255,255,255,0.5)" stroke="rgba(0,0,0,0.5)" stroke-width="3.3"/>
<circle cx="1764.96" cy="337.38" r="23.6" fill="rgba(255,255,255,0.5)" stroke="rgba(0,0,0,0.5)" stroke-width="3.3"/>
<circle cx="1814.21" cy="337.38" r="23.6" fill="rgba(255,255,255,0.5)" stroke="rgba(0,0,0,0.5)" stroke-width="3.3"/>
<circle cx="2257.52" cy="337.38" r="23.6" fill="rgba(255,255,255,0.5)" stroke="rgba(0,0,0,0.5)" stroke-width="3.3"/>
<circle cx="2947.10" cy="337.38" r="23.6" fill="rgba(255,255,255,0.5)" stroke="rgba(0,0,0,0.5)" stroke-width="3.3"/>
<circle cx="730.58" cy="394.30" r="23.6" fill="rgba(255,255,255,0.5)" stroke="rgba(0,0,0,0.5)" stroke-width="3.3"/>
<circle cx="779.84" cy="394.30" r="23.6" fill="rgba(255,255,255,0.5)" stroke="rgba(0,0,0,0.5)" stroke-width="3.3"/>
<circle cx="829.09" cy="394.30" r="23.6" fill="rgba(255,255,255,0.5)" stroke="rgba(0,0,0,0.5)" stroke-width="3.3"/>
<circle cx="878.35" cy="394.30" r="23.6" fill="rgba(255,255,255,0.5)" stroke="rgba(0,0,0,0.5)" stroke-width="3.3"/>
<circle cx="976.86" cy="394.30" r="23.6" fill="rgba(255,255,255,0.5)" stroke="rgba(0,0,0,0.5)" stroke-width="3.3"/>
<circle cx="1026.12" cy="394.30" r="23.6" fill="rgba(255,255,255,0.5)" stroke="rgba(0,0,0,0.5)" stroke-width="3.3"/>
<circle cx="1075.37" cy="394.30" r="23.6" fill="rgba(255,255,255,0.5)" stroke="rgba(0,0,0,0.5)" stroke-width="3.3"/>
<circle cx="1124.63" cy="394.30" r="23.6" fill="rgba(255,255,255,0.5)" stroke="rgba(0,0,0,0.5)" stroke-width="3.3"/>
<circle cx="1173.88" cy="394.30" r="23.6" fill="rgba(255,255,255,0.5)" stroke="rgba(0,0,0,0.5)" stroke-width="3.3"/>
<circle cx="1223.14" cy="394.30" r="23.6" fill="rgba(255,255,255,0.5)" stroke="rgba(0,0,0,0.5)" stroke-width="3.3"/>
<circle cx="1272.40" cy="394.30" r="23.6" fill="rgba(255,255,255,0.5)" stroke="rgba(0,0,0,0.5)" stroke-width="3.3"/>
<circle cx="1370.91" cy="394.30" r="23.6" fill="rgba(255,255,255,0.5)" stroke="rgba(0,0,0,0.5)" stroke-width="3.3"/>
<circle cx="1420.16" cy="394.30" r="23.6" fill="rgba(255,255,255,0.5)" stroke="rgba(0,0,0,0.5)" stroke-width="3.3"/>
<circle cx="1617.19" cy="394.30" r="23.6" fill="rgba(255,255,255,0.5)" stroke="rgba(0,0,0,0.5)" stroke-width="3.3"/>
<circle cx="1666.44" cy="394.30" r="23.6" fill="rgba(255,255,255,0.5)" stroke="rgba(0,0,0,0.5)" stroke-width="3.3"/>
<circle cx="1715.70" cy="394.30" r="23.6" fill="rgba(255,255,255,0.5)" stroke="rgba(0,0,0,0.5)" stroke-width="3.3"/>
<circle cx="1814.21" cy="394.30" r="23.6" fill="rgba(255,255,255,0.5)" stroke="rgba(0,0,0,0.5)" stroke-width="3.3"/>
<circle cx="1863.47" cy="394.30" r="23.6" fill="rgba(255,255,255,0.5)" stroke="rgba(0,0,0,0.5)" stroke-width="3.3"/>
<circle cx="1912.72" cy="394.30" r="23.6" fill="rgba(255,255,255,0.5)" stroke="rgba(0,0,0,0.5)" stroke-width="3.3"/>
<circle cx="2257.52" cy="394.30" r="23.6" fill="rgba(255,255,255,0.5)" stroke="rgba(0,0,0,0.5)" stroke-width="3.3"/>
<circle cx="2306.77" cy="394.30" r="23.6" fill="rgba(255,255,255,0.5)" stroke="rgba(0,0,0,0.5)" stroke-width="3.3"/>
<circle cx="2356.03" cy="394.30" r="23.6" fill="rgba(255,255,255,0.5)" stroke="rgba(0,0,0,0.5)" stroke-width="3.3"/>
<circle cx="2405.28" cy="394.30" r="23.6" fill="rgba(255,255,255,0.5)" stroke="rgba(0,0,0,0.5)" stroke-width="3.3"/>
<circle cx="2454.54" cy="394.30" r="23.6" fill="rgba(255,255,255,0.5)" stroke="rgba(0,0,0,0.5)" stroke-width="3.3"/>
<circle cx="2503.80" cy="394.30" r="23.6" fill="rgba(255,255,255,0.5)" stroke="rgba(0,0,0,0.5)" stroke-width="3.3"/>
<circle cx="2553.05" cy="394.30" r="23.6" fill="rgba(255,255,255,0.5)" stroke="rgba(0,0,0,0.5)" stroke-width="3.3"/>
<circle cx="2897.84" cy="394.30" r="23.6" fill="rgba(255,255,255,0.5)" stroke="rgba(0,0,0,0.5)" stroke-width="3.3"/>
<circle cx="2947.10" cy="394.30" r="23.6" fill="rgba(255,255,255,0.5)" stroke="rgba(0,0,0,0.5)" stroke-width="3.3"/>
<circle cx="1617.19" cy="451.23" r="23.6" fill="rgba(255,255,255,0.5)" stroke="rgba(0,0,0,0.5)" stroke-width="3.3"/>
<circle cx="1764.96" cy="451.23" r="23.6" fill="rgba(255,255,255,0.5)" stroke="rgba(0,0,0,0.5)" stroke-width="3.3"/>
<circle cx="730.58" cy="508.15" r="23.6" fill="rgba(255,255,255,0.5)" stroke="rgba(0,0,0,0.5)" stroke-width="3.3"/>
<circle cx="779.84" cy="508.15" r="23.6" fill="rgba(255,255,255,0.5)" stroke="rgba(0,0,0,0.5)" stroke-width="3.3"/>
<circle cx="829.09" cy="508.15" r="23.6" fill="rgba(255,255,255,0.5)" stroke="rgba(0,0,0,0.5)" stroke-width="3.3"/>
<circle cx="878.35" cy="508.15" r="23.6" fill="rgba(255,255,255,0.5)" stroke="rgba(0,0,0,0.5)" stroke-width="3.3"/>
<circle cx="927.60" cy="508.15" r="23.6" fill="rgba(255,255,255,0.5)" stroke="rgba(0,0,0,0.5)" stroke-width="3.3"/>
<circle cx="976.86" cy="508.15" r="23.6" fill="rgba(255,255,255,0.5)" stroke="rgba(0,0,0,0.5)" stroke-width="3.3"/>
<circle cx="1026.12" cy="508.15" r="23.6" fill="rgba(255,255,255,0.5)" stroke="rgba(0,0,0,0.5)" stroke-width="3.3"/>
<circle cx="1075.37" cy="508.15" r="23.6" fill="rgba(255,255,255,0.5)" stroke="rgba(0,0,0,0.5)" stroke-width="3.3"/>
<circle cx="1124.63" cy="508.15" r="23.6" fill="rgba(255,255,255,0.5)" stroke="rgba(0,0,0,0.5)" stroke-width="3.3"/>
<circle cx="1173.88" cy="508.15" r="23.6" fill="rgba(255,255,255,0.5)" stroke="rgba(0,0,0,0.5)" stroke-width="3.3"/>
<circle cx="1223.14" cy="508.15" r="23.6" fill="rgba(255,255,255,0.5)" stroke="rgba(0,0,0,0.5)" stroke-width="3.3"/>
<circle cx="1272.40" cy="508.15" r="23.6" fill="rgba(255,255,255,0.5)" stroke="rgba(0,0,0,0.5)" stroke-width="3.3"/>
<circle cx="1370.91" cy="508.15" r="23.6" fill="rgba(255,255,255,0.5)" stroke="rgba(0,0,0,0.5)" stroke-width="3.3"/>
<circle cx="1420.16" cy="508.15" r="23.6" fill="rgba(255,255,255,0.5)" stroke="rgba(0,0,0,0.5)" stroke-width="3.3"/>
<circle cx="1567.93" cy="508.15" r="23.6" fill="rgba(255,255,255,0.5)" stroke="rgba(0,0,0,0.5)" stroke-width="3.3"/>
<circle cx="1617.19" cy="508.15" r="23.6" fill="rgba(255,255,255,0.5)" stroke="rgba(0,0,0,0.5)" stroke-width="3.3"/>
<circle cx="1666.44" cy="508.15" r="23.6" fill="rgba(255,255,255,0.5)" stroke="rgba(0,0,0,0.5)" stroke-width="3.3"/>
<circle cx="1715.70" cy="508.15" r="23.6" fill="rgba(255,255,255,0.5)" stroke="rgba(0,0,0,0.5)" stroke-width="3.3"/>
<circle cx="1764.96" cy="508.15" r="23.6" fill="rgba(255,255,255,0.5)" stroke="rgba(0,0,0,0.5)" stroke-width="3.3"/>
<circle cx="1814.21" cy="508.15" r="23.6" fill="rgba(255,255,255,0.5)" stroke="rgba(0,0,0,0.5)" stroke-width="3.3"/>
<circle cx="1863.47" cy="508.15" r="23.6" fill="rgba(255,255,255,0.5)" stroke="rgba(0,0,0,0.5)" stroke-width="3.3"/>
<circle cx="1912.72" cy="508.15" r="23.6" fill="rgba(255,255,255,0.5)" stroke="rgba(0,0,0,0.5)" stroke-width="3.3"/>
<circle cx="2454.54" cy="508.15" r="23.6" fill="rgba(255,255,255,0.5)" stroke="rgba(0,0,0,0.5)" stroke-width="3.3"/>
<circle cx="2503.80" cy="508.15" r="23.6" fill="rgba(255,255,255,0.5)" stroke="rgba(0,0,0,0.5)" stroke-width="3.3"/>
<circle cx="2897.84" cy="508.15" r="23.6" fill="rgba(255,255,255,0.5)" stroke="rgba(0,0,0,0.5)" stroke-width="3.3"/>
<circle cx="2947.10" cy="508.15" r="23.6" fill="rgba(255,255,255,0.5)" stroke="rgba(0,0,0,0.5)" stroke-width="3.3"/>
<circle cx="1075.37" cy="565.07" r="23.6" fill="rgba(255,255,255,0.5)" stroke="rgba(0,0,0,0.5)" stroke-width="3.3"/>
<circle cx="1124.63" cy="565.07" r="23.6" fill="rgba(255,255,255,0.5)" stroke="rgba(0,0,0,0.5)" stroke-width="3.3"/>
<circle cx="1617.19" cy="565.07" r="23.6" fill="rgba(255,255,255,0.5)" stroke="rgba(0,0,0,0.5)" stroke-width="3.3"/>
<circle cx="484.30" cy="622.00" r="23.6" fill="rgba(255,255,255,0.5)" stroke="rgba(0,0,0,0.5)" stroke-width="3.3"/>
<circle cx="533.56" cy="622.00" r="23.6" fill="rgba(255,255,255,0.5)" stroke="rgba(0,0,0,0.5)" stroke-width="3.3"/>
<circle cx="582.81" cy="622.00" r="23.6" fill="rgba(255,255,255,0.5)" stroke="rgba(0,0,0,0.5)" stroke-width="3.3"/>
<circle cx="582.81" cy="622.00" r="23.6" fill="rgba(217,157,151,0.5)" stroke="rgba(0,0,0,0.5)" stroke-width="3.3"/>
<circle cx="632.07" cy="622.00" r="23.6" fill="rgba(255,255,255,0.5)" stroke="rgba(0,0,0,0.5)" stroke-width="3.3"/>
<circle cx="681.32" cy="622.00" r="23.6" fill="rgba(255,255,255,0.5)" stroke="rgba(0,0,0,0.5)" stroke-width="3.3"/>
<circle cx="681.32" cy="622.00" r="23.6" fill="rgba(125,189,225,0.5)" stroke="rgba(0,0,0,0.5)" stroke-width="3.3"/>
<circle cx="927.60" cy="622.00" r="23.6" fill="rgba(255,255,255,0.5)" stroke="rgba(0,0,0,0.5)" stroke-width="3.3"/>
<circle cx="927.60" cy="622.00" r="23.6" fill="rgba(217,157,151,0.5)" stroke="rgba(0,0,0,0.5)" stroke-width="3.3"/>
<circle cx="1272.40" cy="622.00" r="23.6" fill="rgba(255,255,255,0.5)" stroke="rgba(0,0,0,0.5)" stroke-width="3.3"/>
<circle cx="1567.93" cy="622.00" r="23.6" fill="rgba(255,255,255,0.5)" stroke="rgba(0,0,0,0.5)" stroke-width="3.3"/>
<circle cx="1617.19" cy="622.00" r="23.6" fill="rgba(255,255,255,0.5)" stroke="rgba(0,0,0,0.5)" stroke-width="3.3"/>
<circle cx="1764.96" cy="622.00" r="23.6" fill="rgba(255,255,255,0.5)" stroke="rgba(0,0,0,0.5)" stroke-width="3.3"/>
<circle cx="1764.96" cy="622.00" r="23.6" fill="rgba(125,189,225,0.5)" stroke="rgba(0,0,0,0.5)" stroke-width="3.3"/>
<circle cx="1814.21" cy="622.00" r="23.6" fill="rgba(255,255,255,0.5)" stroke="rgba(0,0,0,0.5)" stroke-width="3.3"/>
<circle cx="1863.47" cy="622.00" r="23.6" fill="rgba(255,255,255,0.5)" stroke="rgba(0,0,0,0.5)" stroke-width="3.3"/>
<circle cx="1912.72" cy="622.00" r="23.6" fill="rgba(255,255,255,0.5)" stroke="rgba(0,0,0,0.5)" stroke-width="3.3"/>
<circle cx="1961.98" cy="622.00" r="23.6" fill="rgba(255,255,255,0.5)" stroke="rgba(0,0,0,0.5)" stroke-width="3.3"/>
<circle cx="2011.24" cy="622.00" r="23.6" fill="rgba(255,255,255,0.5)" stroke="rgba(0,0,0,0.5)" stroke-width="3.3"/>
<circle cx="2060.49" cy="622.00" r="23.6" fill="rgba(255,255,255,0.5)" stroke="rgba(0,0,0,0.5)" stroke-width="3.3"/>
<circle cx="2109.75" cy="622.00" r="23.6" fill="rgba(255,255,255,0.5)" stroke="rgba(0,0,0,0.5)" stroke-width="3.3"/>
<circle cx="2159.00" cy="622.00" r="23.6" fill="rgba(255,255,255,0.5)" stroke="rgba(0,0,0,0.5)" stroke-width="3.3"/>
<circle cx="2208.26" cy="622.00" r="23.6" fill="rgba(255,255,255,0.5)" stroke="rgba(0,0,0,0.5)" stroke-width="3.3"/>
<circle cx="2257.52" cy="622.00" r="23.6" fill="rgba(255,255,255,0.5)" stroke="rgba(0,0,0,0.5)" stroke-width="3.3"/>
<circle cx="2306.77" cy="622.00" r="23.6" fill="rgba(255,255,255,0.5)" stroke="rgba(0,0,0,0.5)" stroke-width="3.3"/>
<circle cx="2356.03" cy="622.00" r="23.6" fill="rgba(255,255,255,0.5)" stroke="rgba(0,0,0,0.5)" stroke-width="3.3"/>
<circle cx="2405.28" cy="622.00" r="23.6" fill="rgba(255,255,255,0.5)" stroke="rgba(0,0,0,0.5)" stroke-width="3.3"/>
<circle cx="2454.54" cy="622.00" r="23.6" fill="rgba(255,255,255,0.5)" stroke="rgba(0,0,0,0.5)" stroke-width="3.3"/>
<circle cx="2503.80" cy="622.00" r="23.6" fill="rgba(255,255,255,0.5)" stroke="rgba(0,0,0,0.5)" stroke-width="3.3"/>
<circle cx="2553.05" cy="622.00" r="23.6" fill="rgba(255,255,255,0.5)" stroke="rgba(0,0,0,0.5)" stroke-width="3.3"/>
<circle cx="2602.31" cy="622.00" r="23.6" fill="rgba(255,255,255,0.5)" stroke="rgba(0,0,0,0.5)" stroke-width="3.3"/>
<circle cx="2651.56" cy="622.00" r="23.6" fill="rgba(255,255,255,0.5)" stroke="rgba(0,0,0,0.5)" stroke-width="3.3"/>
<circle cx="2700.82" cy="622.00" r="23.6" fill="rgba(255,255,255,0.5)" stroke="rgba(0,0,0,0.5)" stroke-width="3.3"/>
<circle cx="2750.08" cy="622.00" r="23.6" fill="rgba(255,255,255,0.5)" stroke="rgba(0,0,0,0.5)" stroke-width="3.3"/>
<circle cx="2799.33" cy="622.00" r="23.6" fill="rgba(255,255,255,0.5)" stroke="rgba(0,0,0,0.5)" stroke-width="3.3"/>
<circle cx="2848.59" cy="622.00" r="23.6" fill="rgba(255,255,255,0.5)" stroke="rgba(0,0,0,0.5)" stroke-width="3.3"/>
<circle cx="2848.59" cy="622.00" r="23.6" fill="rgba(125,189,225,0.5)" stroke="rgba(0,0,0,0.5)" stroke-width="3.3"/>
<circle cx="2897.84" cy="622.00" r="23.6" fill="rgba(255,255,255,0.5)" stroke="rgba(0,0,0,0.5)" stroke-width="3.3"/>
<circle cx="2947.10" cy="622.00" r="23.6" fill="rgba(255,255,255,0.5)" stroke="rgba(0,0,0,0.5)" stroke-width="3.3"/>
<circle cx="2996.36" cy="622.00" r="23.6" fill="rgba(255,255,255,0.5)" stroke="rgba(0,0,0,0.5)" stroke-width="3.3"/>
<circle cx="2996.36" cy="622.00" r="23.6" fill="rgba(125,189,225,0.5)" stroke="rgba(0,0,0,0.5)" stroke-width="3.3"/>
<circle cx="3045.61" cy="622.00" r="23.6" fill="rgba(255,255,255,0.5)" stroke="rgba(0,0,0,0.5)" stroke-width="3.3"/>
<circle cx="3094.87" cy="622.00" r="23.6" fill="rgba(255,255,255,0.5)" stroke="rgba(0,0,0,0.5)" stroke-width="3.3"/>
<circle cx="3144.12" cy="622.00" r="23.6" fill="rgba(255,255,255,0.5)" stroke="rgba(0,0,0,0.5)" stroke-width="3.3"/>
<circle cx="3144.12" cy="622.00" r="23.6" fill="rgba(125,189,225,0.5)" stroke="rgba(0,0,0,0.5)" stroke-width="3.3"/>
<circle cx="3193.38" cy="622.00" r="23.6" fill="rgba(255,255,255,0.5)" stroke="rgba(0,0,0,0.5)" stroke-width="3.3"/>
<circle cx="3193.38" cy="622.00" r="23.6" fill="rgba(125,189,225,0.5)" stroke="rgba(0,0,0,0.5)" stroke-width="3.3"/>
<circle cx="1617.19" cy="678.92" r="23.6" fill="rgba(255,255,255,0.5)" stroke="rgba(0,0,0,0.5)" stroke-width="3.3"/>
<circle cx="1764.96" cy="678.92" r="23.6" fill="rgba(255,255,255,0.5)" stroke="rgba(0,0,0,0.5)" stroke-width="3.3"/>
<circle cx="1814.21" cy="678.92" r="23.6" fill="rgba(255,255,255,0.5)" stroke="rgba(0,0,0,0.5)" stroke-width="3.3"/>
<circle cx="1272.40" cy="735.85" r="23.6" fill="rgba(255,255,255,0.5)" stroke="rgba(0,0,0,0.5)" stroke-width="3.3"/>
<circle cx="1814.21" cy="735.85" r="23.6" fill="rgba(255,255,255,0.5)" stroke="rgba(0,0,0,0.5)" stroke-width="3.3"/>
<circle cx="2257.52" cy="735.85" r="23.6" fill="rgba(255,255,255,0.5)" stroke="rgba(0,0,0,0.5)" stroke-width="3.3"/>
<circle cx="2306.77" cy="735.85" r="23.6" fill="rgba(255,255,255,0.5)" stroke="rgba(0,0,0,0.5)" stroke-width="3.3"/>
<circle cx="2356.03" cy="735.85" r="23.6" fill="rgba(255,255,255,0.5)" stroke="rgba(0,0,0,0.5)" stroke-width="3.3"/>
<circle cx="2405.28" cy="735.85" r="23.6" fill="rgba(255,255,255,0.5)" stroke="rgba(0,0,0,0.5)" stroke-width="3.3"/>
<circle cx="2897.84" cy="735.85" r="23.6" fill="rgba(255,255,255,0.5)" stroke="rgba(0,0,0,0.5)" stroke-width="3.3"/>
<circle cx="2947.10" cy="735.85" r="23.6" fill="rgba(255,255,255,0.5)" stroke="rgba(0,0,0,0.5)" stroke-width="3.3"/>
<circle cx="1764.96" cy="792.77" r="23.6" fill="rgba(255,255,255,0.5)" stroke="rgba(0,0,0,0.5)" stroke-width="3.3"/>
<circle cx="730.58" cy="849.70" r="23.6" fill="rgba(255,255,255,0.5)" stroke="rgba(0,0,0,0.5)" stroke-width="3.3"/>
<circle cx="779.84" cy="849.70" r="23.6" fill="rgba(255,255,255,0.5)" stroke="rgba(0,0,0,0.5)" stroke-width="3.3"/>
<circle cx="829.09" cy="849.70" r="23.6" fill="rgba(255,255,255,0.5)" stroke="rgba(0,0,0,0.5)" stroke-width="3.3"/>
<circle cx="878.35" cy="849.70" r="23.6" fill="rgba(255,255,255,0.5)" stroke="rgba(0,0,0,0.5)" stroke-width="3.3"/>
<circle cx="976.86" cy="849.70" r="23.6" fill="rgba(255,255,255,0.5)" stroke="rgba(0,0,0,0.5)" stroke-width="3.3"/>
<circle cx="1026.12" cy="849.70" r="23.6" fill="rgba(255,255,255,0.5)" stroke="rgba(0,0,0,0.5)" stroke-width="3.3"/>
<circle cx="1173.88" cy="849.70" r="23.6" fill="rgba(255,255,255,0.5)" stroke="rgba(0,0,0,0.5)" stroke-width="3.3"/>
<circle cx="1223.14" cy="849.70" r="23.6" fill="rgba(255,255,255,0.5)" stroke="rgba(0,0,0,0.5)" stroke-width="3.3"/>
<circle cx="1370.91" cy="849.70" r="23.6" fill="rgba(255,255,255,0.5)" stroke="rgba(0,0,0,0.5)" stroke-width="3.3"/>
<circle cx="1420.16" cy="849.70" r="23.6" fill="rgba(255,255,255,0.5)" stroke="rgba(0,0,0,0.5)" stroke-width="3.3"/>
<circle cx="1814.21" cy="849.70" r="23.6" fill="rgba(255,255,255,0.5)" stroke="rgba(0,0,0,0.5)" stroke-width="3.3"/>
<circle cx="1863.47" cy="849.70" r="23.6" fill="rgba(255,255,255,0.5)" stroke="rgba(0,0,0,0.5)" stroke-width="3.3"/>
<circle cx="1912.72" cy="849.70" r="23.6" fill="rgba(255,255,255,0.5)" stroke="rgba(0,0,0,0.5)" stroke-width="3.3"/>
<circle cx="2257.52" cy="849.70" r="23.6" fill="rgba(255,255,255,0.5)" stroke="rgba(0,0,0,0.5)" stroke-width="3.3"/>
<circle cx="2306.77" cy="849.70" r="23.6" fill="rgba(255,255,255,0.5)" stroke="rgba(0,0,0,0.5)" stroke-width="3.3"/>
<circle cx="2897.84" cy="849.70" r="23.6" fill="rgba(255,255,255,0.5)" stroke="rgba(0,0,0,0.5)" stroke-width="3.3"/>
<circle cx="2947.10" cy="849.70" r="23.6" fill="rgba(255,255,255,0.5)" stroke="rgba(0,0,0,0.5)" stroke-width="3.3"/>
<circle cx="730.58" cy="906.62" r="23.6" fill="rgba(255,255,255,0.5)" stroke="rgba(0,0,0,0.5)" stroke-width="3.3"/>
<circle cx="779.84" cy="906.62" r="23.6" fill="rgba(255,255,255,0.5)" stroke="rgba(0,0,0,0.5)" stroke-width="3.3"/>
<circle cx="829.09" cy="906.62" r="23.6" fill="rgba(255,255,255,0.5)" stroke="rgba(0,0,0,0.5)" stroke-width="3.3"/>
<circle cx="878.35" cy="906.62" r="23.6" fill="rgba(255,255,255,0.5)" stroke="rgba(0,0,0,0.5)" stroke-width="3.3"/>
<circle cx="976.86" cy="906.62" r="23.6" fill="rgba(255,255,255,0.5)" stroke="rgba(0,0,0,0.5)" stroke-width="3.3"/>
<circle cx="1026.12" cy="906.62" r="23.6" fill="rgba(255,255,255,0.5)" stroke="rgba(0,0,0,0.5)" stroke-width="3.3"/>
<circle cx="1075.37" cy="906.62" r="23.6" fill="rgba(255,255,255,0.5)" stroke="rgba(0,0,0,0.5)" stroke-width="3.3"/>
<circle cx="1124.63" cy="906.62" r="23.6" fill="rgba(255,255,255,0.5)" stroke="rgba(0,0,0,0.5)" stroke-width="3.3"/>
<circle cx="1173.88" cy="906.62" r="23.6" fill="rgba(255,255,255,0.5)" stroke="rgba(0,0,0,0.5)" stroke-width="3.3"/>
<circle cx="1223.14" cy="906.62" r="23.6" fill="rgba(255,255,255,0.5)" stroke="rgba(0,0,0,0.5)" stroke-width="3.3"/>
<circle cx="1272.40" cy="906.62" r="23.6" fill="rgba(255,255,255,0.5)" stroke="rgba(0,0,0,0.5)" stroke-width="3.3"/>
<circle cx="1321.65" cy="906.62" r="23.6" fill="rgba(255,255,255,0.5)" stroke="rgba(0,0,0,0.5)" stroke-width="3.3"/>
<circle cx="1370.91" cy="906.62" r="23.6" fill="rgba(255,255,255,0.5)" stroke="rgba(0,0,0,0.5)" stroke-width="3.3"/>
<circle cx="1420.16" cy="906.62" r="23.6" fill="rgba(255,255,255,0.5)" stroke="rgba(0,0,0,0.5)" stroke-width="3.3"/>
<circle cx="1469.42" cy="906.62" r="23.6" fill="rgba(255,255,255,0.5)" stroke="rgba(0,0,0,0.5)" stroke-width="3.3"/>
<circle cx="1518.68" cy="906.62" r="23.6" fill="rgba(255,255,255,0.5)" stroke="rgba(0,0,0,0.5)" stroke-width="3.3"/>
<circle cx="1617.19" cy="906.62" r="23.6" fill="rgba(255,255,255,0.5)" stroke="rgba(0,0,0,0.5)" stroke-width="3.3"/>
<circle cx="1666.44" cy="906.62" r="23.6" fill="rgba(255,255,255,0.5)" stroke="rgba(0,0,0,0.5)" stroke-width="3.3"/>
<circle cx="1715.70" cy="906.62" r="23.6" fill="rgba(255,255,255,0.5)" stroke="rgba(0,0,0,0.5)" stroke-width="3.3"/>
<circle cx="1764.96" cy="906.62" r="23.6" fill="rgba(255,255,255,0.5)" stroke="rgba(0,0,0,0.5)" stroke-width="3.3"/>
<circle cx="1814.21" cy="906.62" r="23.6" fill="rgba(255,255,255,0.5)" stroke="rgba(0,0,0,0.5)" stroke-width="3.3"/>
<circle cx="1863.47" cy="906.62" r="23.6" fill="rgba(255,255,255,0.5)" stroke="rgba(0,0,0,0.5)" stroke-width="3.3"/>
<circle cx="1912.72" cy="906.62" r="23.6" fill="rgba(255,255,255,0.5)" stroke="rgba(0,0,0,0.5)" stroke-width="3.3"/>
<circle cx="2257.52" cy="906.62" r="23.6" fill="rgba(255,255,255,0.5)" stroke="rgba(0,0,0,0.5)" stroke-width="3.3"/>
<circle cx="2306.77" cy="906.62" r="23.6" fill="rgba(255,255,255,0.5)" stroke="rgba(0,0,0,0.5)" stroke-width="3.3"/>
<circle cx="2356.03" cy="906.62" r="23.6" fill="rgba(255,255,255,0.5)" stroke="rgba(0,0,0,0.5)" stroke-width="3.3"/>
<circle cx="2405.28" cy="906.62" r="23.6" fill="rgba(255,255,255,0.5)" stroke="rgba(0,0,0,0.5)" stroke-width="3.3"/>
<circle cx="2454.54" cy="906.62" r="23.6" fill="rgba(255,255,255,0.5)" stroke="rgba(0,0,0,0.5)" stroke-width="3.3"/>
<circle cx="2503.80" cy="906.62" r="23.6" fill="rgba(255,255,255,0.5)" stroke="rgba(0,0,0,0.5)" stroke-width="3.3"/>
<circle cx="2553.05" cy="906.62" r="23.6" fill="rgba(255,255,255,0.5)" stroke="rgba(0,0,0,0.5)" stroke-width="3.3"/>
<circle cx="2897.84" cy="906.62" r="23.6" fill="rgba(255,255,255,0.5)" stroke="rgba(0,0,0,0.5)" stroke-width="3.3"/>
<circle cx="2947.10" cy="906.62" r="23.6" fill="rgba(255,255,255,0.5)" stroke="rgba(0,0,0,0.5)" stroke-width="3.3"/>
<circle cx="730.58" cy="963.55" r="23.6" fill="rgba(255,255,255,0.5)" stroke="rgba(0,0,0,0.5)" stroke-width="3.3"/>
<circle cx="779.84" cy="963.55" r="23.6" fill="rgba(255,255,255,0.5)" stroke="rgba(0,0,0,0.5)" stroke-width="3.3"/>
<circle cx="829.09" cy="963.55" r="23.6" fill="rgba(255,255,255,0.5)" stroke="rgba(0,0,0,0.5)" stroke-width="3.3"/>
<circle cx="878.35" cy="963.55" r="23.6" fill="rgba(255,255,255,0.5)" stroke="rgba(0,0,0,0.5)" stroke-width="3.3"/>
<circle cx="976.86" cy="963.55" r="23.6" fill="rgba(255,255,255,0.5)" stroke="rgba(0,0,0,0.5)" stroke-width="3.3"/>
<circle cx="1026.12" cy="963.55" r="23.6" fill="rgba(255,255,255,0.5)" stroke="rgba(0,0,0,0.5)" stroke-width="3.3"/>
<circle cx="1075.37" cy="963.55" r="23.6" fill="rgba(255,255,255,0.5)" stroke="rgba(0,0,0,0.5)" stroke-width="3.3"/>
<circle cx="1124.63" cy="963.55" r="23.6" fill="rgba(255,255,255,0.5)" stroke="rgba(0,0,0,0.5)" stroke-width="3.3"/>
<circle cx="1173.88" cy="963.55" r="23.6" fill="rgba(255,255,255,0.5)" stroke="rgba(0,0,0,0.5)" stroke-width="3.3"/>
<circle cx="1223.14" cy="963.55" r="23.6" fill="rgba(255,255,255,0.5)" stroke="rgba(0,0,0,0.5)" stroke-width="3.3"/>
<circle cx="1272.40" cy="963.55" r="23.6" fill="rgba(255,255,255,0.5)" stroke="rgba(0,0,0,0.5)" stroke-width="3.3"/>
<circle cx="1321.65" cy="963.55" r="23.6" fill="rgba(255,255,255,0.5)" stroke="rgba(0,0,0,0.5)" stroke-width="3.3"/>
<circle cx="1370.91" cy="963.55" r="23.6" fill="rgba(255,255,255,0.5)" stroke="rgba(0,0,0,0.5)" stroke-width="3.3"/>
<circle cx="1420.16" cy="963.55" r="23.6" fill="rgba(255,255,255,0.5)" stroke="rgba(0,0,0,0.5)" stroke-width="3.3"/>
<circle cx="1567.93" cy="963.55" r="23.6" fill="rgba(255,255,255,0.5)" stroke="rgba(0,0,0,0.5)" stroke-width="3.3"/>
<circle cx="1617.19" cy="963.55" r="23.6" fill="rgba(255,255,255,0.5)" stroke="rgba(0,0,0,0.5)" stroke-width="3.3"/>
<circle cx="1666.44" cy="963.55" r="23.6" fill="rgba(255,255,255,0.5)" stroke="rgba(0,0,0,0.5)" stroke-width="3.3"/>
<circle cx="1715.70" cy="963.55" r="23.6" fill="rgba(255,255,255,0.5)" stroke="rgba(0,0,0,0.5)" stroke-width="3.3"/>
<circle cx="1764.96" cy="963.55" r="23.6" fill="rgba(255,255,255,0.5)" stroke="rgba(0,0,0,0.5)" stroke-width="3.3"/>
<circle cx="1814.21" cy="963.55" r="23.6" fill="rgba(255,255,255,0.5)" stroke="rgba(0,0,0,0.5)" stroke-width="3.3"/>
<circle cx="1863.47" cy="963.55" r="23.6" fill="rgba(255,255,255,0.5)" stroke="rgba(0,0,0,0.5)" stroke-width="3.3"/>
<circle cx="1912.72" cy="963.55" r="23.6" fill="rgba(255,255,255,0.5)" stroke="rgba(0,0,0,0.5)" stroke-width="3.3"/>
<circle cx="2257.52" cy="963.55" r="23.6" fill="rgba(255,255,255,0.5)" stroke="rgba(0,0,0,0.5)" stroke-width="3.3"/>
<circle cx="2306.77" cy="963.55" r="23.6" fill="rgba(255,255,255,0.5)" stroke="rgba(0,0,0,0.5)" stroke-width="3.3"/>
<circle cx="2356.03" cy="963.55" r="23.6" fill="rgba(255,255,255,0.5)" stroke="rgba(0,0,0,0.5)" stroke-width="3.3"/>
<circle cx="2405.28" cy="963.55" r="23.6" fill="rgba(255,255,255,0.5)" stroke="rgba(0,0,0,0.5)" stroke-width="3.3"/>
<circle cx="2454.54" cy="963.55" r="23.6" fill="rgba(255,255,255,0.5)" stroke="rgba(0,0,0,0.5)" stroke-width="3.3"/>
<circle cx="2503.80" cy="963.55" r="23.6" fill="rgba(255,255,255,0.5)" stroke="rgba(0,0,0,0.5)" stroke-width="3.3"/>
<circle cx="2897.84" cy="963.55" r="23.6" fill="rgba(255,255,255,0.5)" stroke="rgba(0,0,0,0.5)" stroke-width="3.3"/>
<circle cx="2947.10" cy="963.55" r="23.6" fill="rgba(255,255,255,0.5)" stroke="rgba(0,0,0,0.5)" stroke-width="3.3"/>
<circle cx="730.58" cy="1020.48" r="23.6" fill="rgba(255,255,255,0.5)" stroke="rgba(0,0,0,0.5)" stroke-width="3.3"/>
<circle cx="779.84" cy="1020.48" r="23.6" fill="rgba(255,255,255,0.5)" stroke="rgba(0,0,0,0.5)" stroke-width="3.3"/>
<circle cx="829.09" cy="1020.48" r="23.6" fill="rgba(255,255,255,0.5)" stroke="rgba(0,0,0,0.5)" stroke-width="3.3"/>
<circle cx="878.35" cy="1020.48" r="23.6" fill="rgba(255,255,255,0.5)" stroke="rgba(0,0,0,0.5)" stroke-width="3.3"/>
<circle cx="976.86" cy="1020.48" r="23.6" fill="rgba(255,255,255,0.5)" stroke="rgba(0,0,0,0.5)" stroke-width="3.3"/>
<circle cx="1026.12" cy="1020.48" r="23.6" fill="rgba(255,255,255,0.5)" stroke="rgba(0,0,0,0.5)" stroke-width="3.3"/>
<circle cx="1075.37" cy="1020.48" r="23.6" fill="rgba(255,255,255,0.5)" stroke="rgba(0,0,0,0.5)" stroke-width="3.3"/>
<circle cx="1124.63" cy="1020.48" r="23.6" fill="rgba(255,255,255,0.5)" stroke="rgba(0,0,0,0.5)" stroke-width="3.3"/>
<circle cx="1272.40" cy="1020.48" r="23.6" fill="rgba(255,255,255,0.5)" stroke="rgba(0,0,0,0.5)" stroke-width="3.3"/>
<circle cx="1370.91" cy="1020.48" r="23.6" fill="rgba(255,255,255,0.5)" stroke="rgba(0,0,0,0.5)" stroke-width="3.3"/>
<circle cx="1420.16" cy="1020.48" r="23.6" fill="rgba(255,255,255,0.5)" stroke="rgba(0,0,0,0.5)" stroke-width="3.3"/>
<circle cx="1617.19" cy="1020.48" r="23.6" fill="rgba(255,255,255,0.5)" stroke="rgba(0,0,0,0.5)" stroke-width="3.3"/>
<circle cx="1764.96" cy="1020.48" r="23.6" fill="rgba(255,255,255,0.5)" stroke="rgba(0,0,0,0.5)" stroke-width="3.3"/>
<circle cx="1814.21" cy="1020.48" r="23.6" fill="rgba(255,255,255,0.5)" stroke="rgba(0,0,0,0.5)" stroke-width="3.3"/>
<circle cx="1863.47" cy="1020.48" r="23.6" fill="rgba(255,255,255,0.5)" stroke="rgba(0,0,0,0.5)" stroke-width="3.3"/>
<circle cx="1912.72" cy="1020.48" r="23.6" fill="rgba(255,255,255,0.5)" stroke="rgba(0,0,0,0.5)" stroke-width="3.3"/>
<circle cx="2306.77" cy="1020.48" r="23.6" fill="rgba(255,255,255,0.5)" stroke="rgba(0,0,0,0.5)" stroke-width="3.3"/>
<circle cx="2356.03" cy="1020.48" r="23.6" fill="rgba(255,255,255,0.5)" stroke="rgba(0,0,0,0.5)" stroke-width="3.3"/>
<circle cx="2405.28" cy="1020.48" r="23.6" fill="rgba(255,255,255,0.5)" stroke="rgba(0,0,0,0.5)" stroke-width="3.3"/>
<circle cx="2897.84" cy="1020.48" r="23.6" fill="rgba(255,255,255,0.5)" stroke="rgba(0,0,0,0.5)" stroke-width="3.3"/>
<circle cx="2947.10" cy="1020.48" r="23.6" fill="rgba(255,255,255,0.5)" stroke="rgba(0,0,0,0.5)" stroke-width="3.3"/>
<rect x="435.2" y="132.5" width="2787.6" height="922.1" fill="none" stroke="#000" stroke-width="4.6" stroke-linejoin="round"/>
<path d="M423.40 166.60H435.20M423.40 223.52H435.20M423.40 280.45H435.20M423.40 337.38H435.20M423.40 394.30H435.20M423.40 451.23H435.20M423.40 508.15H435.20M423.40 565.07H435.20M423.40 622.00H435.20M423.40 678.92H435.20M423.40 735.85H435.20M423.40 792.77H435.20M423.40 849.70H435.20M423.40 906.62H435.20M423.40 963.55H435.20M423.40 1020.48H435.20M484.30 1054.60V1065.80M533.56 1054.60V1065.80M582.81 1054.60V1065.80M632.07 1054.60V1065.80M681.32 1054.60V1065.80M730.58 1054.60V1065.80M779.84 1054.60V1065.80M829.09 1054.60V1065.80M878.35 1054.60V1065.80M927.60 1054.60V1065.80M976.86 1054.60V1065.80M1026.12 1054.60V1065.80M1075.37 1054.60V1065.80M1124.63 1054.60V1065.80M1173.88 1054.60V1065.80M1223.14 1054.60V1065.80M1272.40 1054.60V1065.80M1321.65 1054.60V1065.80M1370.91 1054.60V1065.80M1420.16 1054.60V1065.80M1469.42 1054.60V1065.80M1518.68 1054.60V1065.80M1567.93 1054.60V1065.80M1617.19 1054.60V1065.80M1666.44 1054.60V1065.80M1715.70 1054.60V1065.80M1764.96 1054.60V1065.80M1814.21 1054.60V1065.80M1863.47 1054.60V1065.80M1912.72 1054.60V1065.80M1961.98 1054.60V1065.80M2011.24 1054.60V1065.80M2060.49 1054.60V1065.80M2109.75 1054.60V1065.80M2159.00 1054.60V1065.80M2208.26 1054.60V1065.80M2257.52 1054.60V1065.80M2306.77 1054.60V1065.80M2356.03 1054.60V1065.80M2405.28 1054.60V1065.80M2454.54 1054.60V1065.80M2503.80 1054.60V1065.80M2553.05 1054.60V1065.80M2602.31 1054.60V1065.80M2651.56 1054.60V1065.80M2700.82 1054.60V1065.80M2750.08 1054.60V1065.80M2799.33 1054.60V1065.80M2848.59 1054.60V1065.80M2897.84 1054.60V1065.80M2947.10 1054.60V1065.80M2996.36 1054.60V1065.80M3045.61 1054.60V1065.80M3094.87 1054.60V1065.80M3144.12 1054.60V1065.80M3193.38 1054.60V1065.80" stroke="#333333" stroke-width="4.6" fill="none"/>
<text transform="translate(415.5 180.00) scale(1 1.06)" font-size="37.6" fill="#4d4d4d" text-anchor="end">Progenitors</text>
<text transform="translate(415.5 236.92) scale(1 1.06)" font-size="37.6" fill="#4d4d4d" text-anchor="end">Plasma cells</text>
<text transform="translate(415.5 293.85) scale(1 1.06)" font-size="37.6" fill="#4d4d4d" text-anchor="end">Physiology B cells</text>
<text transform="translate(415.5 350.77) scale(1 1.06)" font-size="37.6" fill="#4d4d4d" text-anchor="end">pDCs</text>
<text transform="translate(415.5 407.70) scale(1 1.06)" font-size="37.6" fill="#4d4d4d" text-anchor="end">NK cells</text>
<text transform="translate(415.5 464.62) scale(1 1.06)" font-size="37.6" fill="#4d4d4d" text-anchor="end">Neutrophils</text>
<text transform="translate(415.5 521.55) scale(1 1.06)" font-size="37.6" fill="#4d4d4d" text-anchor="end">Mono/Macro</text>
<text transform="translate(415.5 578.47) scale(1 1.06)" font-size="37.6" fill="#4d4d4d" text-anchor="end">Mast cells</text>
<text transform="translate(415.5 635.40) scale(1 1.06)" font-size="37.6" fill="#4d4d4d" text-anchor="end">Malignant cells</text>
<text transform="translate(415.5 692.32) scale(1 1.06)" font-size="37.6" fill="#4d4d4d" text-anchor="end">Fibroblasts</text>
<text transform="translate(415.5 749.25) scale(1 1.06)" font-size="37.6" fill="#4d4d4d" text-anchor="end">Erythrocytes</text>
<text transform="translate(415.5 806.17) scale(1 1.06)" font-size="37.6" fill="#4d4d4d" text-anchor="end">Endothelial cells</text>
<text transform="translate(415.5 863.10) scale(1 1.06)" font-size="37.6" fill="#4d4d4d" text-anchor="end">cDCs</text>
<text transform="translate(415.5 920.02) scale(1 1.06)" font-size="37.6" fill="#4d4d4d" text-anchor="end">CD8+ T cells</text>
<text transform="translate(415.5 976.95) scale(1 1.06)" font-size="37.6" fill="#4d4d4d" text-anchor="end">CD4+ T cells</text>
<text transform="translate(415.5 1033.88) scale(1 1.06)" font-size="37.6" fill="#4d4d4d" text-anchor="end">B cells</text>
<text transform="translate(484.30 1075.30) rotate(-50) translate(0 20.9) scale(1 1.06)" font-size="29.17" fill="#4d4d4d" text-anchor="end">GSE140440</text>
<text transform="translate(533.56 1075.30) rotate(-50) translate(0 20.9) scale(1 1.06)" font-size="29.17" fill="#4d4d4d" text-anchor="end">GSE186960</text>
<text transform="translate(582.81 1075.30) rotate(-50) translate(0 20.9) scale(1 1.06)" font-size="29.17" fill="#4d4d4d" text-anchor="end">GSE138267</text>
<text transform="translate(632.07 1075.30) rotate(-50) translate(0 20.9) scale(1 1.06)" font-size="29.17" fill="#4d4d4d" text-anchor="end">GSE131984_Pac</text>
<text transform="translate(681.32 1075.30) rotate(-50) translate(0 20.9) scale(1 1.06)" font-size="29.17" fill="#4d4d4d" text-anchor="end">GSE163836</text>
<text transform="translate(730.58 1075.30) rotate(-50) translate(0 20.9) scale(1 1.06)" font-size="29.17" fill="#4d4d4d" text-anchor="end">GSE169246_PacBlood_post</text>
<text transform="translate(779.84 1075.30) rotate(-50) translate(0 20.9) scale(1 1.06)" font-size="29.17" fill="#4d4d4d" text-anchor="end">GSE169246_PacBlood_pre</text>
<text transform="translate(829.09 1075.30) rotate(-50) translate(0 20.9) scale(1 1.06)" font-size="29.17" fill="#4d4d4d" text-anchor="end">GSE169246_PacTissue_post</text>
<text transform="translate(878.35 1075.30) rotate(-50) translate(0 20.9) scale(1 1.06)" font-size="29.17" fill="#4d4d4d" text-anchor="end">GSE169246_PacTissue_pre</text>
<text transform="translate(927.60 1075.30) rotate(-50) translate(0 20.9) scale(1 1.06)" font-size="29.17" fill="#4d4d4d" text-anchor="end">GSE153697</text>
<text transform="translate(976.86 1075.30) rotate(-50) translate(0 20.9) scale(1 1.06)" font-size="29.17" fill="#4d4d4d" text-anchor="end">GSE169246_PacAteBlood_post</text>
<text transform="translate(1026.12 1075.30) rotate(-50) translate(0 20.9) scale(1 1.06)" font-size="29.17" fill="#4d4d4d" text-anchor="end">GSE169246_PacAteBlood_pre</text>
<text transform="translate(1075.37 1075.30) rotate(-50) translate(0 20.9) scale(1 1.06)" font-size="29.17" fill="#4d4d4d" text-anchor="end">GSE169246_PacAteTissue_post</text>
<text transform="translate(1124.63 1075.30) rotate(-50) translate(0 20.9) scale(1 1.06)" font-size="29.17" fill="#4d4d4d" text-anchor="end">GSE169246_PacAteTissue_pre</text>
<text transform="translate(1173.88 1075.30) rotate(-50) translate(0 20.9) scale(1 1.06)" font-size="29.17" fill="#4d4d4d" text-anchor="end">GSE197268_Axi−cel_post</text>
<text transform="translate(1223.14 1075.30) rotate(-50) translate(0 20.9) scale(1 1.06)" font-size="29.17" fill="#4d4d4d" text-anchor="end">GSE197268_Axi−cel_pre</text>
<text transform="translate(1272.40 1075.30) rotate(-50) translate(0 20.9) scale(1 1.06)" font-size="29.17" fill="#4d4d4d" text-anchor="end">GSE164551</text>
<text transform="translate(1321.65 1075.30) rotate(-50) translate(0 20.9) scale(1 1.06)" font-size="29.17" fill="#4d4d4d" text-anchor="end">PMID34715028_post</text>
<text transform="translate(1370.91 1075.30) rotate(-50) translate(0 20.9) scale(1 1.06)" font-size="29.17" fill="#4d4d4d" text-anchor="end">GSE212217_post</text>
<text transform="translate(1420.16 1075.30) rotate(-50) translate(0 20.9) scale(1 1.06)" font-size="29.17" fill="#4d4d4d" text-anchor="end">GSE212217_pre</text>
<text transform="translate(1469.42 1075.30) rotate(-50) translate(0 20.9) scale(1 1.06)" font-size="29.17" fill="#4d4d4d" text-anchor="end">GSE164237_post</text>
<text transform="translate(1518.68 1075.30) rotate(-50) translate(0 20.9) scale(1 1.06)" font-size="29.17" fill="#4d4d4d" text-anchor="end">GSE164237_pre</text>
<text transform="translate(1567.93 1075.30) rotate(-50) translate(0 20.9) scale(1 1.06)" font-size="29.17" fill="#4d4d4d" text-anchor="end">GSE150930</text>
<text transform="translate(1617.19 1075.30) rotate(-50) translate(0 20.9) scale(1 1.06)" font-size="29.17" fill="#4d4d4d" text-anchor="end">GSE207422_Sin_post</text>
<text transform="translate(1666.44 1075.30) rotate(-50) translate(0 20.9) scale(1 1.06)" font-size="29.17" fill="#4d4d4d" text-anchor="end">GSE197268_Tisa−cel_post</text>
<text transform="translate(1715.70 1075.30) rotate(-50) translate(0 20.9) scale(1 1.06)" font-size="29.17" fill="#4d4d4d" text-anchor="end">GSE197268_Tisa−cel_pre</text>
<text transform="translate(1764.96 1075.30) rotate(-50) translate(0 20.9) scale(1 1.06)" font-size="29.17" fill="#4d4d4d" text-anchor="end">GSE207422_Tor_post</text>
<text transform="translate(1814.21 1075.30) rotate(-50) translate(0 20.9) scale(1 1.06)" font-size="29.17" fill="#4d4d4d" text-anchor="end">GSE189460_pre</text>
<text transform="translate(1863.47 1075.30) rotate(-50) translate(0 20.9) scale(1 1.06)" font-size="29.17" fill="#4d4d4d" text-anchor="end">GSE161801_PI_post</text>
<text transform="translate(1912.72 1075.30) rotate(-50) translate(0 20.9) scale(1 1.06)" font-size="29.17" fill="#4d4d4d" text-anchor="end">GSE161801_PI_pre</text>
<text transform="translate(1961.98 1075.30) rotate(-50) translate(0 20.9) scale(1 1.06)" font-size="29.17" fill="#4d4d4d" text-anchor="end">GSE139386</text>
<text transform="translate(2011.24 1075.30) rotate(-50) translate(0 20.9) scale(1 1.06)" font-size="29.17" fill="#4d4d4d" text-anchor="end">GSE161195_post</text>
<text transform="translate(2060.49 1075.30) rotate(-50) translate(0 20.9) scale(1 1.06)" font-size="29.17" fill="#4d4d4d" text-anchor="end">GSE161195_pre</text>
<text transform="translate(2109.75 1075.30) rotate(-50) translate(0 20.9) scale(1 1.06)" font-size="29.17" fill="#4d4d4d" text-anchor="end">GSE158457</text>
<text transform="translate(2159.00 1075.30) rotate(-50) translate(0 20.9) scale(1 1.06)" font-size="29.17" fill="#4d4d4d" text-anchor="end">GSE168668</text>
<text transform="translate(2208.26 1075.30) rotate(-50) translate(0 20.9) scale(1 1.06)" font-size="29.17" fill="#4d4d4d" text-anchor="end">GSE149214</text>
<text transform="translate(2257.52 1075.30) rotate(-50) translate(0 20.9) scale(1 1.06)" font-size="29.17" fill="#4d4d4d" text-anchor="end">GSE162117_post</text>
<text transform="translate(2306.77 1075.30) rotate(-50) translate(0 20.9) scale(1 1.06)" font-size="29.17" fill="#4d4d4d" text-anchor="end">GSE162117_pre</text>
<text transform="translate(2356.03 1075.30) rotate(-50) translate(0 20.9) scale(1 1.06)" font-size="29.17" fill="#4d4d4d" text-anchor="end">GSE199333_post</text>
<text transform="translate(2405.28 1075.30) rotate(-50) translate(0 20.9) scale(1 1.06)" font-size="29.17" fill="#4d4d4d" text-anchor="end">GSE199333_pre</text>
<text transform="translate(2454.54 1075.30) rotate(-50) translate(0 20.9) scale(1 1.06)" font-size="29.17" fill="#4d4d4d" text-anchor="end">GSE111014_post</text>
<text transform="translate(2503.80 1075.30) rotate(-50) translate(0 20.9) scale(1 1.06)" font-size="29.17" fill="#4d4d4d" text-anchor="end">GSE111014_pre</text>
<text transform="translate(2553.05 1075.30) rotate(-50) translate(0 20.9) scale(1 1.06)" font-size="29.17" fill="#4d4d4d" text-anchor="end">GSE152469</text>
<text transform="translate(2602.31 1075.30) rotate(-50) translate(0 20.9) scale(1 1.06)" font-size="29.17" fill="#4d4d4d" text-anchor="end">GSE131984_JQ1</text>
<text transform="translate(2651.56 1075.30) rotate(-50) translate(0 20.9) scale(1 1.06)" font-size="29.17" fill="#4d4d4d" text-anchor="end">GSE131984_JQ1Pac</text>
<text transform="translate(2700.82 1075.30) rotate(-50) translate(0 20.9) scale(1 1.06)" font-size="29.17" fill="#4d4d4d" text-anchor="end">GSE131984_JQ1Pal</text>
<text transform="translate(2750.08 1075.30) rotate(-50) translate(0 20.9) scale(1 1.06)" font-size="29.17" fill="#4d4d4d" text-anchor="end">GSE104987</text>
<text transform="translate(2799.33 1075.30) rotate(-50) translate(0 20.9) scale(1 1.06)" font-size="29.17" fill="#4d4d4d" text-anchor="end">GSE131984_Pal</text>
<text transform="translate(2848.59 1075.30) rotate(-50) translate(0 20.9) scale(1 1.06)" font-size="29.17" fill="#4d4d4d" text-anchor="end">GSE108397</text>
<text transform="translate(2897.84 1075.30) rotate(-50) translate(0 20.9) scale(1 1.06)" font-size="29.17" fill="#4d4d4d" text-anchor="end">GSE161801_IMiD_post</text>
<text transform="translate(2947.10 1075.30) rotate(-50) translate(0 20.9) scale(1 1.06)" font-size="29.17" fill="#4d4d4d" text-anchor="end">GSE161801_IMiD_pre</text>
<text transform="translate(2996.36 1075.30) rotate(-50) translate(0 20.9) scale(1 1.06)" font-size="29.17" fill="#4d4d4d" text-anchor="end">GSE175716</text>
<text transform="translate(3045.61 1075.30) rotate(-50) translate(0 20.9) scale(1 1.06)" font-size="29.17" fill="#4d4d4d" text-anchor="end">GSE115251</text>
<text transform="translate(3094.87 1075.30) rotate(-50) translate(0 20.9) scale(1 1.06)" font-size="29.17" fill="#4d4d4d" text-anchor="end">GSE164897_Vem</text>
<text transform="translate(3144.12 1075.30) rotate(-50) translate(0 20.9) scale(1 1.06)" font-size="29.17" fill="#4d4d4d" text-anchor="end">GSE164897_VemCob</text>
<text transform="translate(3193.38 1075.30) rotate(-50) translate(0 20.9) scale(1 1.06)" font-size="29.17" fill="#4d4d4d" text-anchor="end">GSE164897_VemTra</text>
<text transform="translate(435.5 98.1) scale(1 1.06)" font-size="54.5" fill="#000">Expression of SNAPIN</text>
<text transform="translate(3291.8 491.1) scale(1 1.06)" font-size="45.8" fill="#000">Expression</text>
<rect x="3290.9" y="518.4" width="72.0" height="216.0" fill="#f2f2f2"/>
<circle cx="3326.90" cy="554.40" r="8.1" fill="rgb(215,147,138)" stroke="rgba(0,0,0,0.55)" stroke-width="3.0"/>
<text transform="translate(3386.5 568.20) scale(1 1.06)" font-size="37.4" fill="#000">Up</text>
<circle cx="3326.90" cy="626.40" r="8.1" fill="rgb(122,178,214)" stroke="rgba(0,0,0,0.55)" stroke-width="3.0"/>
<text transform="translate(3386.5 640.20) scale(1 1.06)" font-size="37.4" fill="#000">Down</text>
<circle cx="3326.90" cy="698.40" r="8.1" fill="rgba(255,255,255,0.5)" stroke="rgba(0,0,0,0.5)" stroke-width="3.0"/>
<text transform="translate(3386.5 712.20) scale(1 1.06)" font-size="37.4" fill="#000">None</text>
<line x1="434.9" y1="1418.55" x2="666.9" y2="1418.55" stroke="#000" stroke-width="4.5"/>
<line x1="681.2" y1="1418.55" x2="1602.4" y2="1418.55" stroke="#000" stroke-width="4.5"/>
<line x1="1627.1" y1="1418.55" x2="3045.6" y2="1418.55" stroke="#000" stroke-width="4.5"/>
<text class="sf" x="483.7" y="1482.1" font-size="54.0" fill="#000" text-anchor="middle">Chemotherapy</text>
<text class="sf" x="1183.4" y="1482.1" font-size="54.0" fill="#000" text-anchor="middle">Immunotherapy</text>
<text class="sf" x="2404.4" y="1482.1" font-size="54.0" fill="#000" text-anchor="middle">Targeted therapy</text>
</svg></body></html>
